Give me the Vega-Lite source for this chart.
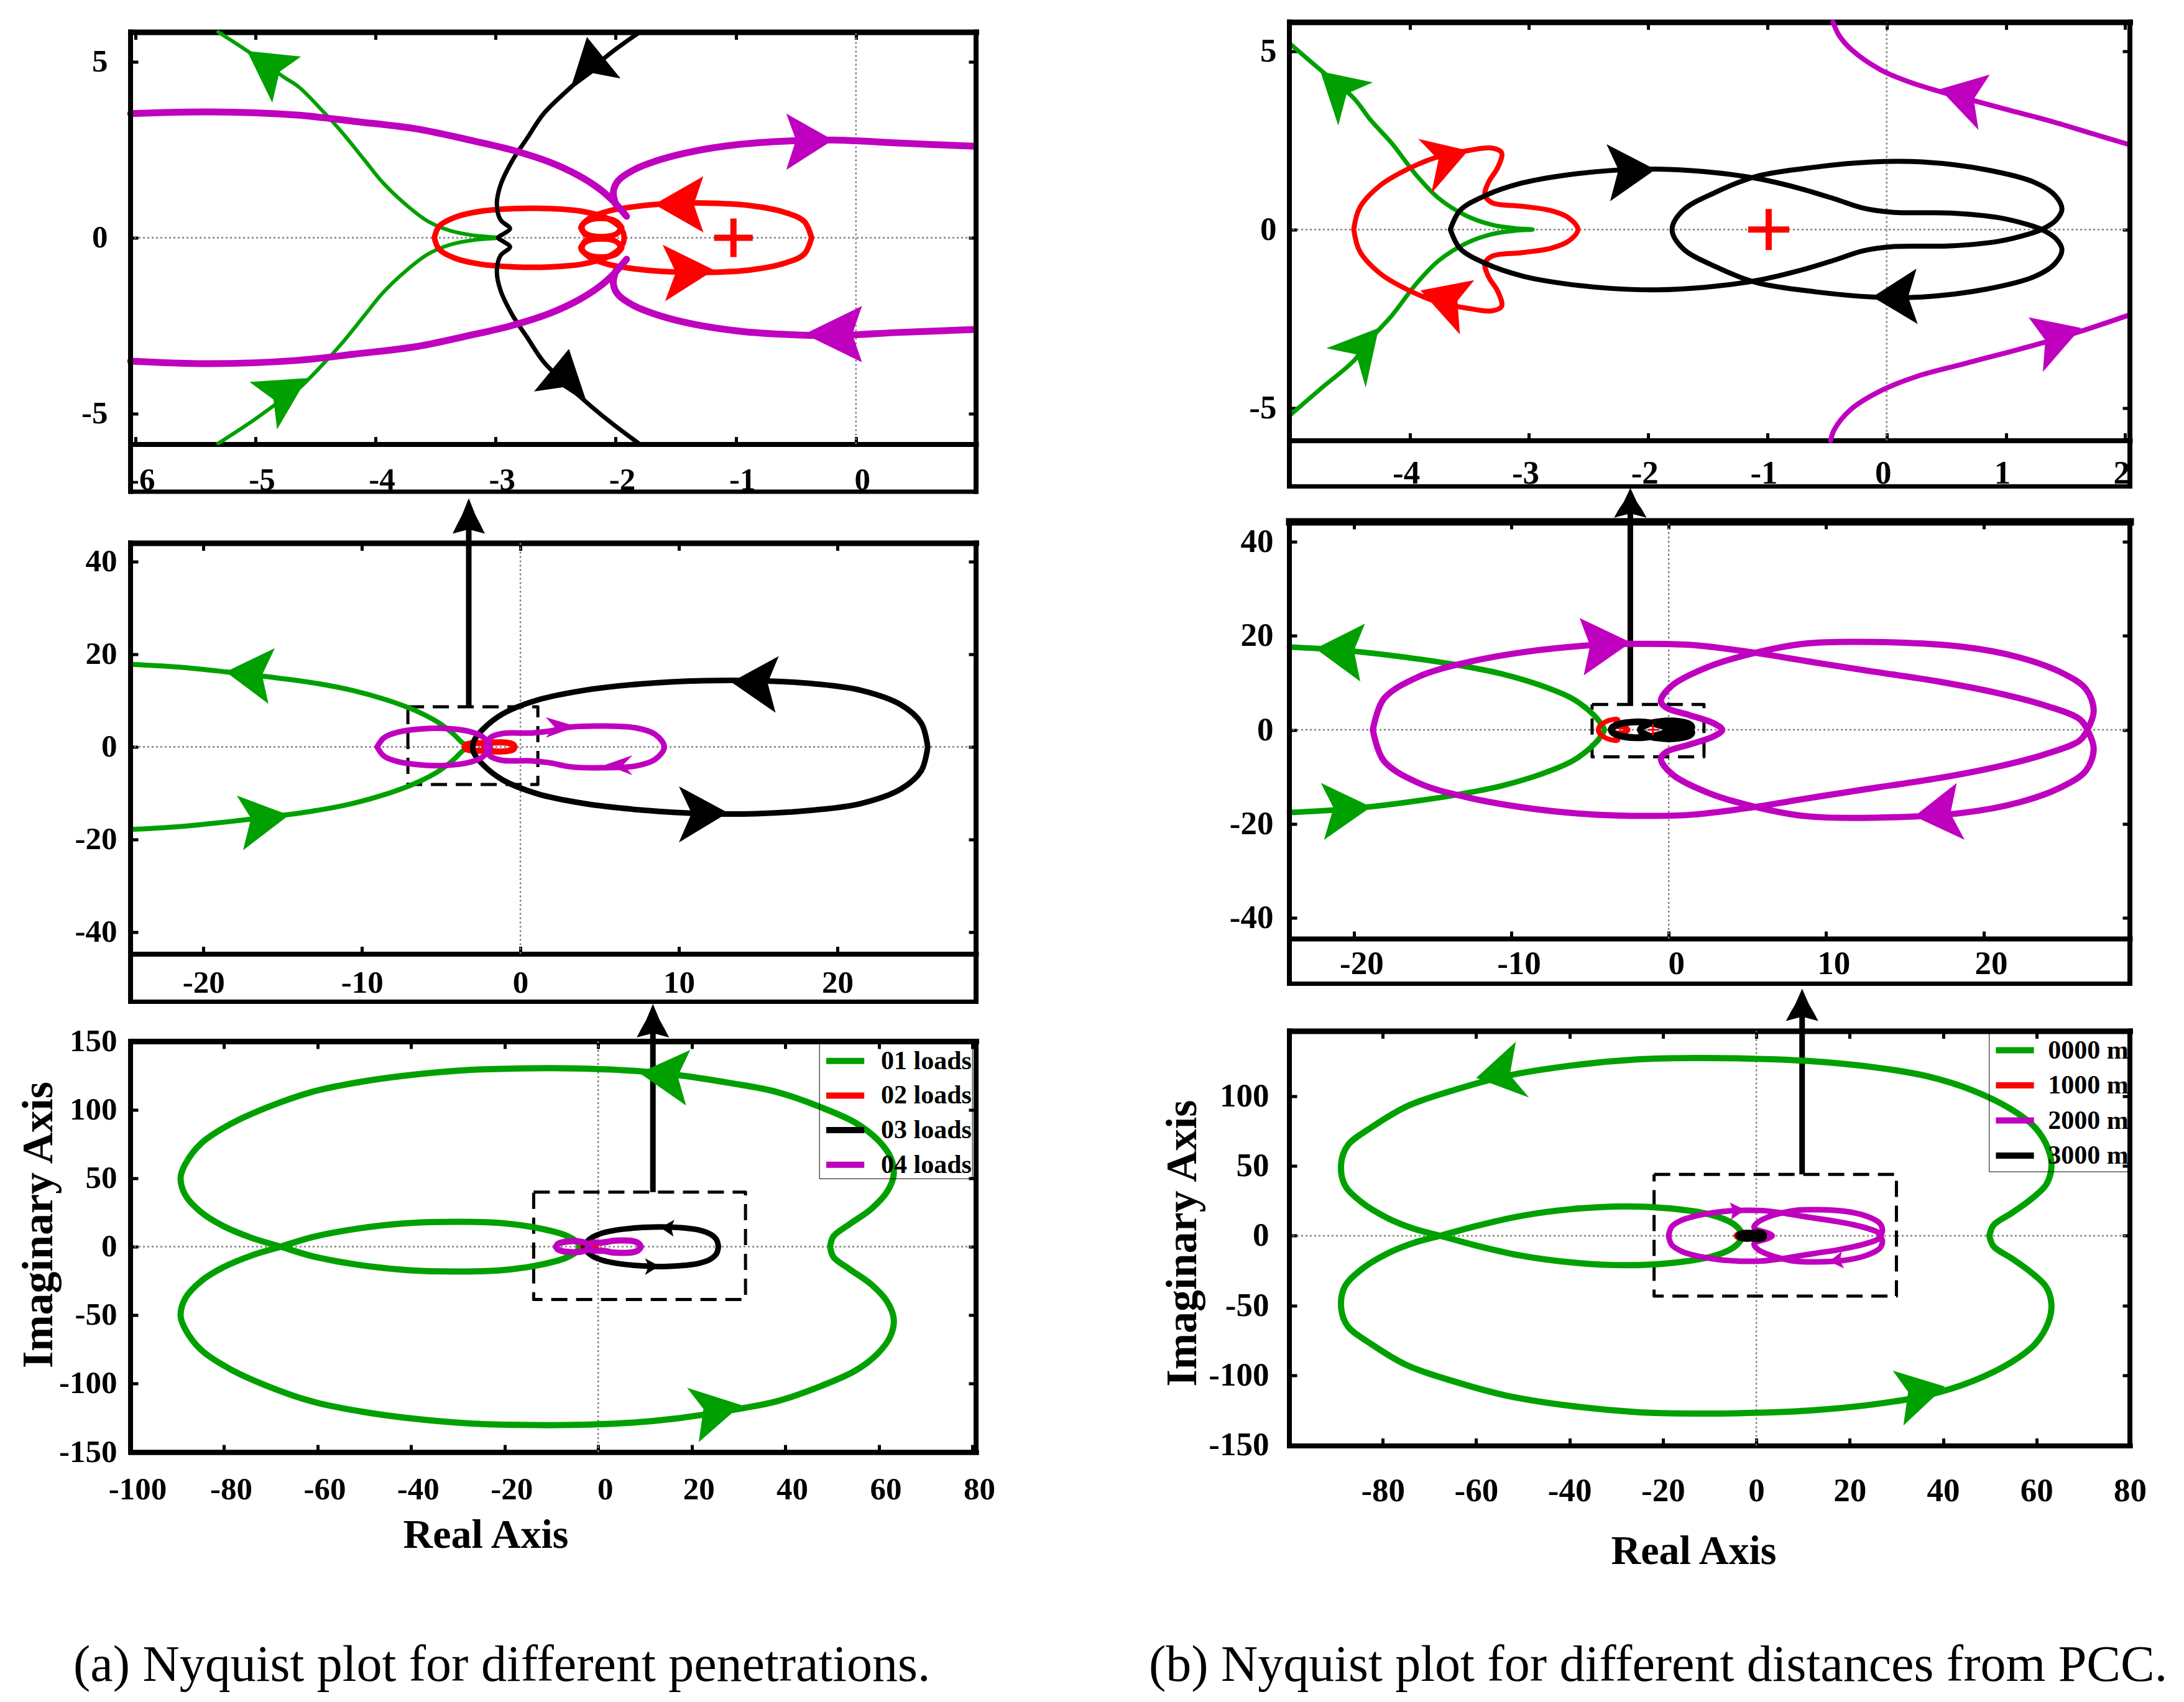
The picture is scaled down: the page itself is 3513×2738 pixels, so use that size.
{
"$schema":"https://vega.github.io/schema/vega-lite/v6.json",
"background":"white",
"padding":{"left":27,"top":29.5,"right":5,"bottom":5},
"config":{
 "view":{"stroke":null},
 "axis":{"grid":false,"labelFont":"Liberation Serif","labelFontWeight":"bold","labelColor":"black","titleFont":"Liberation Serif","titleFontWeight":"bold","titleColor":"black","domainColor":"black","tickColor":"black","tickWidth":5,"tickSize":12,"labelFlush":false,"labelOverlap":false,"domainCap":"square","labelExpr":"datum.value < 0 ? '-' + abs(datum.value) : '' + datum.value"},
 "line":{"strokeJoin":"round","strokeCap":"round","interpolate":"catmull-rom"}
},
"datasets":{
"one":[{}],
"a1g":[{"s":"01 loads","x":-5.31,"y":-5.85},{"s":"01 loads","x":-5.05,"y":-5.27},{"s":"01 loads","x":-4.76,"y":-4.56},{"s":"01 loads","x":-4.64,"y":-4.29},{"s":"01 loads","x":-4.42,"y":-3.53},{"s":"01 loads","x":-4.28,"y":-3.0},{"s":"01 loads","x":-4.09,"y":-2.2},{"s":"01 loads","x":-3.94,"y":-1.57},{"s":"01 loads","x":-3.75,"y":-0.95},{"s":"01 loads","x":-3.56,"y":-0.46},{"s":"01 loads","x":-3.37,"y":-0.19},{"s":"01 loads","x":-3.17,"y":-0.06},{"s":"01 loads","x":-2.98,"y":0},{"s":"01 loads","x":-3.17,"y":0.06},{"s":"01 loads","x":-3.37,"y":0.19},{"s":"01 loads","x":-3.56,"y":0.46},{"s":"01 loads","x":-3.75,"y":0.95},{"s":"01 loads","x":-3.94,"y":1.57},{"s":"01 loads","x":-4.09,"y":2.2},{"s":"01 loads","x":-4.28,"y":3.0},{"s":"01 loads","x":-4.42,"y":3.53},{"s":"01 loads","x":-4.64,"y":4.29},{"s":"01 loads","x":-4.76,"y":4.56},{"s":"01 loads","x":-5.05,"y":5.27},{"s":"01 loads","x":-5.31,"y":5.85}],
"a1k":[{"s":"03 loads","x":-1.8,"y":5.85},{"s":"03 loads","x":-2.02,"y":5.31},{"s":"03 loads","x":-2.21,"y":4.78},{"s":"03 loads","x":-2.4,"y":4.2},{"s":"03 loads","x":-2.6,"y":3.53},{"s":"03 loads","x":-2.74,"y":2.82},{"s":"03 loads","x":-2.86,"y":2.2},{"s":"03 loads","x":-2.96,"y":1.49},{"s":"03 loads","x":-2.99,"y":0.95},{"s":"03 loads","x":-2.96,"y":0.51},{"s":"03 loads","x":-2.88,"y":0.26},{"s":"03 loads","x":-2.93,"y":0.12},{"s":"03 loads","x":-2.98,"y":0},{"s":"03 loads","x":-2.93,"y":-0.12},{"s":"03 loads","x":-2.88,"y":-0.26},{"s":"03 loads","x":-2.96,"y":-0.51},{"s":"03 loads","x":-2.99,"y":-0.95},{"s":"03 loads","x":-2.96,"y":-1.49},{"s":"03 loads","x":-2.86,"y":-2.2},{"s":"03 loads","x":-2.74,"y":-2.82},{"s":"03 loads","x":-2.6,"y":-3.53},{"s":"03 loads","x":-2.4,"y":-4.2},{"s":"03 loads","x":-2.21,"y":-4.78},{"s":"03 loads","x":-2.02,"y":-5.31},{"s":"03 loads","x":-1.8,"y":-5.87}],
"a1r":[{"s":"02 loads","g":1,"x":-0.37,"y":0},{"s":"02 loads","g":1,"x":-0.43,"y":0.46},{"s":"02 loads","g":1,"x":-0.6,"y":0.73},{"s":"02 loads","g":1,"x":-0.87,"y":0.91},{"s":"02 loads","g":1,"x":-1.18,"y":0.98},{"s":"02 loads","g":1,"x":-1.54,"y":0.97},{"s":"02 loads","g":1,"x":-1.83,"y":0.89},{"s":"02 loads","g":1,"x":-2.07,"y":0.75},{"s":"02 loads","g":1,"x":-2.22,"y":0.55},{"s":"02 loads","g":1,"x":-2.28,"y":0.33},{"s":"02 loads","g":1,"x":-2.26,"y":0.11},{"s":"02 loads","g":1,"x":-2.21,"y":0},{"s":"02 loads","g":1,"x":-2.26,"y":-0.11},{"s":"02 loads","g":1,"x":-2.28,"y":-0.33},{"s":"02 loads","g":1,"x":-2.22,"y":-0.55},{"s":"02 loads","g":1,"x":-2.07,"y":-0.75},{"s":"02 loads","g":1,"x":-1.83,"y":-0.89},{"s":"02 loads","g":1,"x":-1.54,"y":-0.97},{"s":"02 loads","g":1,"x":-1.18,"y":-0.98},{"s":"02 loads","g":1,"x":-0.87,"y":-0.91},{"s":"02 loads","g":1,"x":-0.6,"y":-0.73},{"s":"02 loads","g":1,"x":-0.43,"y":-0.46},{"s":"02 loads","g":1,"x":-0.37,"y":0},
{"s":"02 loads","g":2,"x":-3.51,"y":0},{"s":"02 loads","g":2,"x":-3.47,"y":0.33},{"s":"02 loads","g":2,"x":-3.34,"y":0.58},{"s":"02 loads","g":2,"x":-3.13,"y":0.75},{"s":"02 loads","g":2,"x":-2.84,"y":0.83},{"s":"02 loads","g":2,"x":-2.55,"y":0.83},{"s":"02 loads","g":2,"x":-2.28,"y":0.75},{"s":"02 loads","g":2,"x":-2.07,"y":0.55},{"s":"02 loads","g":2,"x":-1.96,"y":0.28},{"s":"02 loads","g":2,"x":-1.93,"y":0},{"s":"02 loads","g":2,"x":-1.96,"y":-0.28},{"s":"02 loads","g":2,"x":-2.07,"y":-0.55},{"s":"02 loads","g":2,"x":-2.28,"y":-0.75},{"s":"02 loads","g":2,"x":-2.55,"y":-0.83},{"s":"02 loads","g":2,"x":-2.84,"y":-0.83},{"s":"02 loads","g":2,"x":-3.13,"y":-0.75},{"s":"02 loads","g":2,"x":-3.34,"y":-0.58},{"s":"02 loads","g":2,"x":-3.47,"y":-0.33},{"s":"02 loads","g":2,"x":-3.51,"y":0},
{"s":"02 loads","g":3,"x":-1.95,"y":0.29},{"s":"02 loads","g":3,"x":-2.0,"y":0.47},{"s":"02 loads","g":3,"x":-2.12,"y":0.55},{"s":"02 loads","g":3,"x":-2.24,"y":0.47},{"s":"02 loads","g":3,"x":-2.29,"y":0.29},{"s":"02 loads","g":3,"x":-2.24,"y":0.1},{"s":"02 loads","g":3,"x":-2.12,"y":0.03},{"s":"02 loads","g":3,"x":-2.0,"y":0.1},{"s":"02 loads","g":3,"x":-1.95,"y":0.29},
{"s":"02 loads","g":4,"x":-1.95,"y":-0.29},{"s":"02 loads","g":4,"x":-2.0,"y":-0.47},{"s":"02 loads","g":4,"x":-2.12,"y":-0.55},{"s":"02 loads","g":4,"x":-2.24,"y":-0.47},{"s":"02 loads","g":4,"x":-2.29,"y":-0.29},{"s":"02 loads","g":4,"x":-2.24,"y":-0.1},{"s":"02 loads","g":4,"x":-2.12,"y":-0.03},{"s":"02 loads","g":4,"x":-2.0,"y":-0.1},{"s":"02 loads","g":4,"x":-1.95,"y":-0.29}],
"a1m":[{"s":"04 loads","g":1,"x":-6.04,"y":3.53},{"s":"04 loads","g":1,"x":-5.38,"y":3.58},{"s":"04 loads","g":1,"x":-4.66,"y":3.49},{"s":"04 loads","g":1,"x":-4.18,"y":3.31},{"s":"04 loads","g":1,"x":-3.65,"y":3.09},{"s":"04 loads","g":1,"x":-3.22,"y":2.78},{"s":"04 loads","g":1,"x":-2.88,"y":2.51},{"s":"04 loads","g":1,"x":-2.55,"y":2.15},{"s":"04 loads","g":1,"x":-2.31,"y":1.77},{"s":"04 loads","g":1,"x":-2.14,"y":1.4},{"s":"04 loads","g":1,"x":-2.02,"y":1.04},{"s":"04 loads","g":1,"x":-1.95,"y":0.77},{"s":"04 loads","g":1,"x":-1.91,"y":0.61},
{"s":"04 loads","g":2,"x":-2.0,"y":0.95},{"s":"04 loads","g":2,"x":-2.02,"y":1.31},{"s":"04 loads","g":2,"x":-1.98,"y":1.62},{"s":"04 loads","g":2,"x":-1.85,"y":1.93},{"s":"04 loads","g":2,"x":-1.63,"y":2.22},{"s":"04 loads","g":2,"x":-1.35,"y":2.46},{"s":"04 loads","g":2,"x":-0.96,"y":2.66},{"s":"04 loads","g":2,"x":-0.58,"y":2.75},{"s":"04 loads","g":2,"x":-0.19,"y":2.78},{"s":"04 loads","g":2,"x":0.38,"y":2.69},{"s":"04 loads","g":2,"x":0.99,"y":2.6},
{"s":"04 loads","g":3,"x":-6.04,"y":-3.51},{"s":"04 loads","g":3,"x":-5.38,"y":-3.58},{"s":"04 loads","g":3,"x":-4.66,"y":-3.49},{"s":"04 loads","g":3,"x":-4.18,"y":-3.31},{"s":"04 loads","g":3,"x":-3.65,"y":-3.09},{"s":"04 loads","g":3,"x":-3.22,"y":-2.78},{"s":"04 loads","g":3,"x":-2.88,"y":-2.51},{"s":"04 loads","g":3,"x":-2.55,"y":-2.15},{"s":"04 loads","g":3,"x":-2.31,"y":-1.77},{"s":"04 loads","g":3,"x":-2.14,"y":-1.4},{"s":"04 loads","g":3,"x":-2.02,"y":-1.04},{"s":"04 loads","g":3,"x":-1.95,"y":-0.77},{"s":"04 loads","g":3,"x":-1.91,"y":-0.61},
{"s":"04 loads","g":4,"x":-2.0,"y":-0.95},{"s":"04 loads","g":4,"x":-2.02,"y":-1.31},{"s":"04 loads","g":4,"x":-1.98,"y":-1.62},{"s":"04 loads","g":4,"x":-1.85,"y":-1.93},{"s":"04 loads","g":4,"x":-1.63,"y":-2.22},{"s":"04 loads","g":4,"x":-1.35,"y":-2.46},{"s":"04 loads","g":4,"x":-0.96,"y":-2.66},{"s":"04 loads","g":4,"x":-0.58,"y":-2.75},{"s":"04 loads","g":4,"x":-0.19,"y":-2.78},{"s":"04 loads","g":4,"x":0.38,"y":-2.69},{"s":"04 loads","g":4,"x":0.99,"y":-2.61}],
"a1a":[{"s":"01 loads","g":"ga","x":-5.07,"y":5.31},{"s":"01 loads","g":"ga","x":-4.62,"y":5.15},{"s":"01 loads","g":"ga","x":-4.8,"y":4.72},{"s":"01 loads","g":"ga","x":-4.86,"y":3.84},
{"s":"01 loads","g":"gb","x":-4.57,"y":-3.99},{"s":"01 loads","g":"gb","x":-5.05,"y":-4.1},{"s":"01 loads","g":"gb","x":-4.85,"y":-4.6},{"s":"01 loads","g":"gb","x":-4.82,"y":-5.45},
{"s":"03 loads","g":"ka","x":-2.24,"y":5.71},{"s":"03 loads","g":"ka","x":-1.96,"y":4.53},{"s":"03 loads","g":"ka","x":-2.19,"y":4.68},{"s":"03 loads","g":"ka","x":-2.38,"y":4.2},
{"s":"03 loads","g":"kb","x":-2.39,"y":-3.16},{"s":"03 loads","g":"kb","x":-2.24,"y":-4.7},{"s":"03 loads","g":"kb","x":-2.44,"y":-4.25},{"s":"03 loads","g":"kb","x":-2.68,"y":-4.37},
{"s":"02 loads","g":"ra","x":-1.68,"y":0.95},{"s":"02 loads","g":"ra","x":-1.27,"y":1.75},{"s":"02 loads","g":"ra","x":-1.35,"y":0.95},{"s":"02 loads","g":"ra","x":-1.27,"y":0.15},
{"s":"02 loads","g":"rb","x":-1.18,"y":-0.92},{"s":"02 loads","g":"rb","x":-1.61,"y":-0.2},{"s":"02 loads","g":"rb","x":-1.5,"y":-0.98},{"s":"02 loads","g":"rb","x":-1.59,"y":-1.81},
{"s":"04 loads","g":"ma","x":-0.19,"y":2.78},{"s":"04 loads","g":"ma","x":-0.58,"y":3.53},{"s":"04 loads","g":"ma","x":-0.5,"y":2.78},{"s":"04 loads","g":"ma","x":-0.58,"y":1.93},
{"s":"04 loads","g":"mb","x":-0.43,"y":-2.74},{"s":"04 loads","g":"mb","x":0.05,"y":-1.94},{"s":"04 loads","g":"mb","x":-0.03,"y":-2.74},{"s":"04 loads","g":"mb","x":0.05,"y":-3.54}],
"a2g":[{"s":"01 loads","x":-24.6,"y":-17.8},{"s":"01 loads","x":-21.5,"y":-17.2},{"s":"01 loads","x":-18.6,"y":-16.2},{"s":"01 loads","x":-16.1,"y":-15.2},{"s":"01 loads","x":-13.2,"y":-13.9},{"s":"01 loads","x":-10.6,"y":-12.2},{"s":"01 loads","x":-8.4,"y":-10.1},{"s":"01 loads","x":-6.6,"y":-7.8},{"s":"01 loads","x":-5.1,"y":-5.1},{"s":"01 loads","x":-4.2,"y":-2.7},{"s":"01 loads","x":-3.7,"y":-1.0},{"s":"01 loads","x":-3.3,"y":0},{"s":"01 loads","x":-3.7,"y":1.0},{"s":"01 loads","x":-4.2,"y":2.7},{"s":"01 loads","x":-5.1,"y":5.1},{"s":"01 loads","x":-6.6,"y":7.8},{"s":"01 loads","x":-8.4,"y":10.1},{"s":"01 loads","x":-10.6,"y":12.2},{"s":"01 loads","x":-13.2,"y":13.9},{"s":"01 loads","x":-16.1,"y":15.2},{"s":"01 loads","x":-18.6,"y":16.2},{"s":"01 loads","x":-21.5,"y":17.2},{"s":"01 loads","x":-24.6,"y":17.8}],
"a2k":[{"s":"03 loads","x":25.7,"y":0},{"s":"03 loads","x":25.3,"y":5.1},{"s":"03 loads","x":24.0,"y":9.1},{"s":"03 loads","x":21.5,"y":12.2},{"s":"03 loads","x":18.6,"y":13.6},{"s":"03 loads","x":14.9,"y":14.3},{"s":"03 loads","x":11.6,"y":14.3},{"s":"03 loads","x":7.6,"y":13.6},{"s":"03 loads","x":4.0,"y":12.2},{"s":"03 loads","x":1.06,"y":10.1},{"s":"03 loads","x":-1.13,"y":7.1},{"s":"03 loads","x":-2.4,"y":3.7},{"s":"03 loads","x":-2.95,"y":1.2},{"s":"03 loads","x":-3.0,"y":0},{"s":"03 loads","x":-2.95,"y":-1.2},{"s":"03 loads","x":-2.4,"y":-3.7},{"s":"03 loads","x":-1.13,"y":-7.1},{"s":"03 loads","x":1.06,"y":-10.1},{"s":"03 loads","x":4.0,"y":-12.2},{"s":"03 loads","x":7.6,"y":-13.6},{"s":"03 loads","x":11.6,"y":-14.4},{"s":"03 loads","x":14.9,"y":-14.4},{"s":"03 loads","x":18.6,"y":-13.6},{"s":"03 loads","x":21.5,"y":-12.2},{"s":"03 loads","x":24.0,"y":-9.1},{"s":"03 loads","x":25.3,"y":-5.1},{"s":"03 loads","x":25.7,"y":0}],
"a2m":[{"s":"04 loads","g":1,"x":-9.04,"y":0},{"s":"04 loads","g":1,"x":-8.6,"y":2.0},{"s":"04 loads","g":1,"x":-7.7,"y":3.2},{"s":"04 loads","g":1,"x":-6.2,"y":3.9},{"s":"04 loads","g":1,"x":-4.8,"y":4.0},{"s":"04 loads","g":1,"x":-3.3,"y":3.4},{"s":"04 loads","g":1,"x":-2.4,"y":2.2},{"s":"04 loads","g":1,"x":-1.9,"y":0},{"s":"04 loads","g":1,"x":-2.4,"y":-2.2},{"s":"04 loads","g":1,"x":-3.3,"y":-3.4},{"s":"04 loads","g":1,"x":-4.8,"y":-4.0},{"s":"04 loads","g":1,"x":-6.2,"y":-3.9},{"s":"04 loads","g":1,"x":-7.7,"y":-3.2},{"s":"04 loads","g":1,"x":-8.6,"y":-2.0},{"s":"04 loads","g":1,"x":-9.04,"y":0},
{"s":"04 loads","g":2,"x":-2.2,"y":0},{"s":"04 loads","g":2,"x":-1.9,"y":2.0},{"s":"04 loads","g":2,"x":-1.13,"y":2.9},{"s":"04 loads","g":2,"x":0.7,"y":3.0},{"s":"04 loads","g":2,"x":1.8,"y":3.4},{"s":"04 loads","g":2,"x":3.2,"y":4.3},{"s":"04 loads","g":2,"x":5.1,"y":4.5},{"s":"04 loads","g":2,"x":7.3,"y":4.1},{"s":"04 loads","g":2,"x":8.5,"y":2.7},{"s":"04 loads","g":2,"x":9.08,"y":0},{"s":"04 loads","g":2,"x":8.5,"y":-2.7},{"s":"04 loads","g":2,"x":7.3,"y":-4.1},{"s":"04 loads","g":2,"x":5.1,"y":-4.5},{"s":"04 loads","g":2,"x":3.2,"y":-4.3},{"s":"04 loads","g":2,"x":1.8,"y":-3.4},{"s":"04 loads","g":2,"x":0.7,"y":-3.0},{"s":"04 loads","g":2,"x":-1.13,"y":-2.9},{"s":"04 loads","g":2,"x":-1.9,"y":-2.0},{"s":"04 loads","g":2,"x":-2.2,"y":0}],
"a2a":[{"s":"01 loads","g":"ga","x":-18.6,"y":16.2},{"s":"01 loads","g":"ga","x":-15.5,"y":21.3},{"s":"01 loads","g":"ga","x":-16.3,"y":15.5},{"s":"01 loads","g":"ga","x":-15.9,"y":9.3},
{"s":"01 loads","g":"gb","x":-14.6,"y":-14.7},{"s":"01 loads","g":"gb","x":-17.9,"y":-10.5},{"s":"01 loads","g":"gb","x":-17.0,"y":-15.4},{"s":"01 loads","g":"gb","x":-17.5,"y":-22.3},
{"s":"03 loads","g":"ka","x":13.3,"y":14.0},{"s":"03 loads","g":"ka","x":16.3,"y":19.6},{"s":"03 loads","g":"ka","x":15.6,"y":13.8},{"s":"03 loads","g":"ka","x":16.1,"y":7.4},
{"s":"03 loads","g":"kb","x":13.1,"y":-14.2},{"s":"03 loads","g":"kb","x":10.0,"y":-8.5},{"s":"03 loads","g":"kb","x":10.8,"y":-14.3},{"s":"03 loads","g":"kb","x":10.0,"y":-20.6},
{"s":"04 loads","g":"ma","x":3.54,"y":4.4},{"s":"04 loads","g":"ma","x":1.6,"y":6.4},{"s":"04 loads","g":"ma","x":2.15,"y":4.3},{"s":"04 loads","g":"ma","x":1.6,"y":2.0},
{"s":"04 loads","g":"mb","x":5.36,"y":-3.85},{"s":"04 loads","g":"mb","x":7.07,"y":-1.8},{"s":"04 loads","g":"mb","x":6.5,"y":-3.85},{"s":"04 loads","g":"mb","x":7.07,"y":-6.1}],
"a2box":[{"x":-7.1,"y":8.65},{"x":1.1,"y":8.65},{"x":1.1,"y":-8.1},{"x":-7.1,"y":-8.1},{"x":-7.1,"y":8.65}],
"a2hd":[{"x":-3.26,"y":53.66},{"x":-2.84,"y":50.06},{"x":-2.515,"y":47.92},{"x":-2.24,"y":46.01},{"x":-3.26,"y":46.95},{"x":-4.28,"y":46.01},{"x":-4.005,"y":47.92},{"x":-3.68,"y":50.06}],
"a3g":[{"s":"01 loads","x":49.6,"y":0},{"s":"01 loads","x":50.3,"y":7.5},{"s":"01 loads","x":53.7,"y":16.3},{"s":"01 loads","x":58.4,"y":27.6},{"s":"01 loads","x":61.8,"y":40.2},{"s":"01 loads","x":63.2,"y":52.8},{"s":"01 loads","x":62.5,"y":65.3},{"s":"01 loads","x":59.8,"y":77.9},{"s":"01 loads","x":55.0,"y":90.5},{"s":"01 loads","x":47.6,"y":101.8},{"s":"01 loads","x":38.0,"y":113.1},{"s":"01 loads","x":28.5,"y":119.3},{"s":"01 loads","x":16.3,"y":125.6},{"s":"01 loads","x":6.8,"y":128.6},{"s":"01 loads","x":-5.4,"y":130.2},{"s":"01 loads","x":-16.3,"y":130.2},{"s":"01 loads","x":-27.2,"y":129.1},{"s":"01 loads","x":-39.4,"y":125.6},{"s":"01 loads","x":-50.3,"y":120.6},{"s":"01 loads","x":-61.1,"y":113.1},{"s":"01 loads","x":-70.7,"y":101.8},{"s":"01 loads","x":-78.8,"y":89.2},{"s":"01 loads","x":-84.9,"y":75.4},{"s":"01 loads","x":-88.3,"y":60.3},{"s":"01 loads","x":-89.3,"y":50.3},{"s":"01 loads","x":-88.3,"y":37.7},{"s":"01 loads","x":-84.9,"y":25.1},{"s":"01 loads","x":-80.2,"y":15.1},{"s":"01 loads","x":-74.0,"y":6.3},{"s":"01 loads","x":-67.9,"y":0},
{"s":"01 loads","x":-61.1,"y":-7.0},{"s":"01 loads","x":-51.6,"y":-13.1},{"s":"01 loads","x":-40.8,"y":-17.1},{"s":"01 loads","x":-29.9,"y":-18.1},{"s":"01 loads","x":-20.4,"y":-17.1},{"s":"01 loads","x":-12.2,"y":-13.1},{"s":"01 loads","x":-6.8,"y":-8.0},{"s":"01 loads","x":-4.3,"y":-2.5},{"s":"01 loads","x":-4.1,"y":0},
{"s":"01 loads","x":-4.3,"y":2.5},{"s":"01 loads","x":-6.8,"y":8.0},{"s":"01 loads","x":-12.2,"y":13.1},{"s":"01 loads","x":-20.4,"y":17.1},{"s":"01 loads","x":-29.9,"y":18.1},{"s":"01 loads","x":-40.8,"y":17.1},{"s":"01 loads","x":-51.6,"y":13.1},{"s":"01 loads","x":-61.1,"y":7.0},{"s":"01 loads","x":-67.9,"y":0},
{"s":"01 loads","x":-74.0,"y":-6.3},{"s":"01 loads","x":-80.2,"y":-15.1},{"s":"01 loads","x":-84.9,"y":-25.1},{"s":"01 loads","x":-88.3,"y":-37.7},{"s":"01 loads","x":-89.3,"y":-50.3},{"s":"01 loads","x":-88.3,"y":-60.3},{"s":"01 loads","x":-84.9,"y":-75.4},{"s":"01 loads","x":-78.8,"y":-89.2},{"s":"01 loads","x":-70.7,"y":-101.8},{"s":"01 loads","x":-61.1,"y":-113.1},{"s":"01 loads","x":-50.3,"y":-120.6},{"s":"01 loads","x":-39.4,"y":-125.6},{"s":"01 loads","x":-27.2,"y":-129.1},{"s":"01 loads","x":-16.3,"y":-130.2},{"s":"01 loads","x":-5.4,"y":-130.2},{"s":"01 loads","x":6.8,"y":-128.6},{"s":"01 loads","x":16.3,"y":-125.6},{"s":"01 loads","x":28.5,"y":-119.3},{"s":"01 loads","x":38.0,"y":-113.1},{"s":"01 loads","x":47.6,"y":-101.8},{"s":"01 loads","x":55.0,"y":-90.5},{"s":"01 loads","x":59.8,"y":-77.9},{"s":"01 loads","x":62.5,"y":-65.3},{"s":"01 loads","x":63.2,"y":-52.8},{"s":"01 loads","x":61.8,"y":-40.2},{"s":"01 loads","x":58.4,"y":-27.6},{"s":"01 loads","x":53.7,"y":-16.3},{"s":"01 loads","x":50.3,"y":-7.5},{"s":"01 loads","x":49.6,"y":0}],
"a3a":[{"s":"01 loads","g":"ga","x":8.8,"y":126.9},{"s":"01 loads","g":"ga","x":19.7,"y":143.7},{"s":"01 loads","g":"ga","x":17.0,"y":124.5},{"s":"01 loads","g":"ga","x":18.8,"y":103.0},
{"s":"01 loads","g":"gb","x":30.6,"y":-115.6},{"s":"01 loads","g":"gb","x":19.0,"y":-103.0},{"s":"01 loads","g":"gb","x":22.5,"y":-118.5},{"s":"01 loads","g":"gb","x":21.5,"y":-142.7}],
"a3box":[{"x":-13.8,"y":39.8},{"x":31.5,"y":39.8},{"x":31.5,"y":-38.6},{"x":-13.8,"y":-38.6},{"x":-13.8,"y":39.8}],
"a3hd":[{"x":11.7,"y":177.2},{"x":13.12,"y":165.7},{"x":14.23,"y":158.8},{"x":15.16,"y":152.7},{"x":11.7,"y":155.9},{"x":8.24,"y":152.7},{"x":9.17,"y":158.8},{"x":10.28,"y":165.7}],
"b1g":[{"s":"0000 m","x":-5.0,"y":-5.19},{"s":"0000 m","x":-4.75,"y":-4.47},{"s":"0000 m","x":-4.47,"y":-3.68},{"s":"0000 m","x":-4.33,"y":-3.07},{"s":"0000 m","x":-4.15,"y":-2.41},{"s":"0000 m","x":-3.95,"y":-1.54},{"s":"0000 m","x":-3.76,"y":-0.88},{"s":"0000 m","x":-3.53,"y":-0.39},{"s":"0000 m","x":-3.31,"y":-0.13},{"s":"0000 m","x":-3.11,"y":-0.03},{"s":"0000 m","x":-2.97,"y":0},{"s":"0000 m","x":-3.11,"y":0.03},{"s":"0000 m","x":-3.31,"y":0.13},{"s":"0000 m","x":-3.53,"y":0.39},{"s":"0000 m","x":-3.76,"y":0.88},{"s":"0000 m","x":-3.95,"y":1.54},{"s":"0000 m","x":-4.15,"y":2.41},{"s":"0000 m","x":-4.33,"y":3.07},{"s":"0000 m","x":-4.47,"y":3.68},{"s":"0000 m","x":-4.75,"y":4.47},{"s":"0000 m","x":-5.0,"y":5.19}],
"b1r":[{"s":"1000 m","x":-4.47,"y":0},{"s":"1000 m","x":-4.42,"y":0.61},{"s":"1000 m","x":-4.25,"y":1.23},{"s":"1000 m","x":-4.03,"y":1.67},{"s":"1000 m","x":-3.76,"y":2.04},{"s":"1000 m","x":-3.51,"y":2.21},{"s":"1000 m","x":-3.31,"y":2.28},{"s":"1000 m","x":-3.23,"y":2.15},{"s":"1000 m","x":-3.26,"y":1.75},{"s":"1000 m","x":-3.34,"y":1.32},{"s":"1000 m","x":-3.37,"y":0.96},{"s":"1000 m","x":-3.31,"y":0.75},{"s":"1000 m","x":-3.06,"y":0.65},{"s":"1000 m","x":-2.82,"y":0.53},{"s":"1000 m","x":-2.67,"y":0.33},{"s":"1000 m","x":-2.59,"y":0},{"s":"1000 m","x":-2.67,"y":-0.33},{"s":"1000 m","x":-2.82,"y":-0.53},{"s":"1000 m","x":-3.06,"y":-0.65},{"s":"1000 m","x":-3.31,"y":-0.75},{"s":"1000 m","x":-3.37,"y":-0.96},{"s":"1000 m","x":-3.34,"y":-1.32},{"s":"1000 m","x":-3.26,"y":-1.75},{"s":"1000 m","x":-3.23,"y":-2.15},{"s":"1000 m","x":-3.31,"y":-2.28},{"s":"1000 m","x":-3.51,"y":-2.21},{"s":"1000 m","x":-3.76,"y":-2.04},{"s":"1000 m","x":-4.03,"y":-1.67},{"s":"1000 m","x":-4.25,"y":-1.23},{"s":"1000 m","x":-4.42,"y":-0.61},{"s":"1000 m","x":-4.47,"y":0}],
"b1k":[{"s":"3000 m","x":-3.66,"y":0},{"s":"3000 m","x":-3.58,"y":0.53},{"s":"3000 m","x":-3.36,"y":0.96},{"s":"3000 m","x":-3.06,"y":1.3},{"s":"3000 m","x":-2.72,"y":1.51},{"s":"3000 m","x":-2.32,"y":1.65},{"s":"3000 m","x":-1.93,"y":1.69},{"s":"3000 m","x":-1.53,"y":1.62},{"s":"3000 m","x":-1.09,"y":1.43},{"s":"3000 m","x":-0.74,"y":1.16},{"s":"3000 m","x":-0.44,"y":0.86},{"s":"3000 m","x":-0.2,"y":0.6},{"s":"3000 m","x":0.05,"y":0.48},{"s":"3000 m","x":0.54,"y":0.46},{"s":"3000 m","x":0.94,"y":0.33},{"s":"3000 m","x":1.19,"y":0.13},{"s":"3000 m","x":1.3,"y":0},{"s":"3000 m","x":1.42,"y":-0.26},{"s":"3000 m","x":1.47,"y":-0.57},{"s":"3000 m","x":1.41,"y":-0.96},{"s":"3000 m","x":1.24,"y":-1.32},{"s":"3000 m","x":0.84,"y":-1.67},{"s":"3000 m","x":0.3,"y":-1.89},{"s":"3000 m","x":-0.12,"y":-1.89},{"s":"3000 m","x":-0.59,"y":-1.75},{"s":"3000 m","x":-1.09,"y":-1.49},{"s":"3000 m","x":-1.43,"y":-1.05},{"s":"3000 m","x":-1.71,"y":-0.53},{"s":"3000 m","x":-1.8,"y":0},{"s":"3000 m","x":-1.71,"y":0.53},{"s":"3000 m","x":-1.43,"y":1.05},{"s":"3000 m","x":-1.09,"y":1.49},{"s":"3000 m","x":-0.59,"y":1.75},{"s":"3000 m","x":-0.12,"y":1.89},{"s":"3000 m","x":0.3,"y":1.89},{"s":"3000 m","x":0.84,"y":1.67},{"s":"3000 m","x":1.24,"y":1.32},{"s":"3000 m","x":1.41,"y":0.96},{"s":"3000 m","x":1.47,"y":0.57},{"s":"3000 m","x":1.42,"y":0.26},{"s":"3000 m","x":1.3,"y":0},{"s":"3000 m","x":1.19,"y":-0.13},{"s":"3000 m","x":0.94,"y":-0.33},{"s":"3000 m","x":0.54,"y":-0.46},{"s":"3000 m","x":0.05,"y":-0.48},{"s":"3000 m","x":-0.2,"y":-0.6},{"s":"3000 m","x":-0.44,"y":-0.86},{"s":"3000 m","x":-0.74,"y":-1.16},{"s":"3000 m","x":-1.09,"y":-1.43},{"s":"3000 m","x":-1.53,"y":-1.62},{"s":"3000 m","x":-1.93,"y":-1.69},{"s":"3000 m","x":-2.32,"y":-1.65},{"s":"3000 m","x":-2.72,"y":-1.51},{"s":"3000 m","x":-3.06,"y":-1.3},{"s":"3000 m","x":-3.36,"y":-0.96},{"s":"3000 m","x":-3.58,"y":-0.53},{"s":"3000 m","x":-3.66,"y":0}],
"b1m":[{"s":"2000 m","g":1,"x":-0.45,"y":5.81},{"s":"2000 m","g":1,"x":-0.4,"y":5.44},{"s":"2000 m","g":1,"x":-0.29,"y":5.02},{"s":"2000 m","g":1,"x":-0.05,"y":4.47},{"s":"2000 m","g":1,"x":0.2,"y":4.12},{"s":"2000 m","g":1,"x":0.47,"y":3.84},{"s":"2000 m","g":1,"x":0.74,"y":3.6},{"s":"2000 m","g":1,"x":1.04,"y":3.33},{"s":"2000 m","g":1,"x":1.38,"y":3.03},{"s":"2000 m","g":1,"x":1.73,"y":2.68},{"s":"2000 m","g":1,"x":2.04,"y":2.37},
{"s":"2000 m","g":2,"x":-0.47,"y":-5.91},{"s":"2000 m","g":2,"x":-0.44,"y":-5.61},{"s":"2000 m","g":2,"x":-0.3,"y":-5.04},{"s":"2000 m","g":2,"x":-0.05,"y":-4.52},{"s":"2000 m","g":2,"x":0.25,"y":-4.12},{"s":"2000 m","g":2,"x":0.64,"y":-3.77},{"s":"2000 m","g":2,"x":1.04,"y":-3.42},{"s":"2000 m","g":2,"x":1.38,"y":-3.11},{"s":"2000 m","g":2,"x":1.63,"y":-2.85},{"s":"2000 m","g":2,"x":2.04,"y":-2.39}],
"b1a":[{"s":"0000 m","g":"ga","x":-4.75,"y":4.43},{"s":"0000 m","g":"ga","x":-4.31,"y":4.12},{"s":"0000 m","g":"ga","x":-4.53,"y":3.8},{"s":"0000 m","g":"ga","x":-4.6,"y":2.91},
{"s":"0000 m","g":"gb","x":-4.26,"y":-2.76},{"s":"0000 m","g":"gb","x":-4.7,"y":-3.33},{"s":"0000 m","g":"gb","x":-4.45,"y":-3.5},{"s":"0000 m","g":"gb","x":-4.37,"y":-4.43},
{"s":"1000 m","g":"ra","x":-3.51,"y":2.21},{"s":"1000 m","g":"ra","x":-3.93,"y":2.54},{"s":"1000 m","g":"ra","x":-3.76,"y":1.95},{"s":"1000 m","g":"ra","x":-3.82,"y":1.01},
{"s":"1000 m","g":"rb","x":-3.91,"y":-1.71},{"s":"1000 m","g":"rb","x":-3.46,"y":-1.42},{"s":"1000 m","g":"rb","x":-3.6,"y":-2.0},{"s":"1000 m","g":"rb","x":-3.58,"y":-2.94},
{"s":"3000 m","g":"ka","x":-1.94,"y":1.68},{"s":"3000 m","g":"ka","x":-2.35,"y":2.39},{"s":"3000 m","g":"ka","x":-2.25,"y":1.67},{"s":"3000 m","g":"ka","x":-2.32,"y":0.79},
{"s":"3000 m","g":"kb","x":-0.12,"y":-1.89},{"s":"3000 m","g":"kb","x":0.25,"y":-1.1},{"s":"3000 m","g":"kb","x":0.18,"y":-1.89},{"s":"3000 m","g":"kb","x":0.26,"y":-2.65},
{"s":"2000 m","g":"ma","x":0.445,"y":3.93},{"s":"2000 m","g":"ma","x":0.865,"y":4.34},{"s":"2000 m","g":"ma","x":0.73,"y":3.65},{"s":"2000 m","g":"ma","x":0.77,"y":2.79},
{"s":"2000 m","g":"mb","x":1.63,"y":-2.76},{"s":"2000 m","g":"mb","x":1.19,"y":-2.46},{"s":"2000 m","g":"mb","x":1.33,"y":-3.1},{"s":"2000 m","g":"mb","x":1.31,"y":-3.99}],
"b2g":[{"s":"0000 m","x":-24.1,"y":-17.6},{"s":"0000 m","x":-22.3,"y":-17.3},{"s":"0000 m","x":-19.6,"y":-16.6},{"s":"0000 m","x":-16.6,"y":-15.4},{"s":"0000 m","x":-13.6,"y":-13.9},{"s":"0000 m","x":-10.6,"y":-11.9},{"s":"0000 m","x":-8.0,"y":-9.3},{"s":"0000 m","x":-6.1,"y":-6.6},{"s":"0000 m","x":-4.8,"y":-3.3},{"s":"0000 m","x":-4.3,"y":-1.3},{"s":"0000 m","x":-4.1,"y":0},{"s":"0000 m","x":-4.3,"y":1.3},{"s":"0000 m","x":-4.8,"y":3.3},{"s":"0000 m","x":-6.1,"y":6.6},{"s":"0000 m","x":-8.0,"y":9.3},{"s":"0000 m","x":-10.6,"y":11.9},{"s":"0000 m","x":-13.6,"y":13.9},{"s":"0000 m","x":-16.6,"y":15.4},{"s":"0000 m","x":-19.6,"y":16.6},{"s":"0000 m","x":-22.3,"y":17.3},{"s":"0000 m","x":-24.1,"y":17.6}],
"b2m":[{"s":"2000 m","x":-18.8,"y":0},{"s":"2000 m","x":-18.1,"y":6.6},{"s":"2000 m","x":-15.9,"y":11.3},{"s":"2000 m","x":-12.9,"y":14.3},{"s":"2000 m","x":-9.1,"y":16.6},{"s":"2000 m","x":-5.4,"y":17.9},{"s":"2000 m","x":-2.4,"y":18.3},{"s":"2000 m","x":1.3,"y":18.1},{"s":"2000 m","x":5.1,"y":16.6},{"s":"2000 m","x":8.8,"y":14.6},{"s":"2000 m","x":12.6,"y":12.6},{"s":"2000 m","x":17.1,"y":10.3},{"s":"2000 m","x":20.8,"y":7.9},{"s":"2000 m","x":23.8,"y":5.3},{"s":"2000 m","x":26.1,"y":2.3},{"s":"2000 m","x":26.6,"y":0},{"s":"2000 m","x":27.0,"y":-4.1},{"s":"2000 m","x":26.5,"y":-8.7},{"s":"2000 m","x":25.0,"y":-12.1},{"s":"2000 m","x":22.3,"y":-15.4},{"s":"2000 m","x":18.6,"y":-17.7},{"s":"2000 m","x":13.0,"y":-18.7},{"s":"2000 m","x":8.8,"y":-18.4},{"s":"2000 m","x":5.5,"y":-16.4},{"s":"2000 m","x":2.5,"y":-13.4},{"s":"2000 m","x":0.2,"y":-9.4},{"s":"2000 m","x":-0.5,"y":-6.1},{"s":"2000 m","x":-0.15,"y":-4.7},{"s":"2000 m","x":1.35,"y":-3.1},{"s":"2000 m","x":2.85,"y":-1.4},{"s":"2000 m","x":3.4,"y":0},{"s":"2000 m","x":2.85,"y":1.4},{"s":"2000 m","x":1.35,"y":3.1},{"s":"2000 m","x":-0.15,"y":4.7},{"s":"2000 m","x":-0.5,"y":6.1},{"s":"2000 m","x":0.2,"y":9.4},{"s":"2000 m","x":2.5,"y":13.4},{"s":"2000 m","x":5.5,"y":16.4},{"s":"2000 m","x":8.8,"y":18.4},{"s":"2000 m","x":13.0,"y":18.7},{"s":"2000 m","x":18.6,"y":17.7},{"s":"2000 m","x":22.3,"y":15.4},{"s":"2000 m","x":25.0,"y":12.1},{"s":"2000 m","x":26.5,"y":8.7},{"s":"2000 m","x":27.0,"y":4.1},{"s":"2000 m","x":26.6,"y":0},{"s":"2000 m","x":26.1,"y":-2.3},{"s":"2000 m","x":23.8,"y":-5.3},{"s":"2000 m","x":20.8,"y":-7.9},{"s":"2000 m","x":17.1,"y":-10.3},{"s":"2000 m","x":12.6,"y":-12.6},{"s":"2000 m","x":8.8,"y":-14.6},{"s":"2000 m","x":5.1,"y":-16.6},{"s":"2000 m","x":1.3,"y":-18.1},{"s":"2000 m","x":-2.4,"y":-18.3},{"s":"2000 m","x":-5.4,"y":-17.9},{"s":"2000 m","x":-9.1,"y":-16.6},{"s":"2000 m","x":-12.9,"y":-14.3},{"s":"2000 m","x":-15.9,"y":-11.3},{"s":"2000 m","x":-18.1,"y":-6.6},{"s":"2000 m","x":-18.8,"y":0}],
"b2a":[{"s":"0000 m","g":"ga","x":-22.45,"y":17.3},{"s":"0000 m","g":"ga","x":-19.3,"y":22.6},{"s":"0000 m","g":"ga","x":-20.0,"y":16.9},{"s":"0000 m","g":"ga","x":-19.6,"y":10.3},
{"s":"0000 m","g":"gb","x":-18.9,"y":-16.4},{"s":"0000 m","g":"gb","x":-22.1,"y":-11.3},{"s":"0000 m","g":"gb","x":-21.3,"y":-16.6},{"s":"0000 m","g":"gb","x":-21.9,"y":-23.4},
{"s":"2000 m","g":"ma","x":-2.4,"y":18.6},{"s":"2000 m","g":"ma","x":-5.66,"y":23.8},{"s":"2000 m","g":"ma","x":-5.0,"y":17.9},{"s":"2000 m","g":"ma","x":-5.4,"y":11.6},
{"s":"2000 m","g":"mb","x":15.6,"y":-18.4},{"s":"2000 m","g":"mb","x":18.3,"y":-11.3},{"s":"2000 m","g":"mb","x":17.9,"y":-17.8},{"s":"2000 m","g":"mb","x":18.8,"y":-23.4}],
"b2box":[{"x":-4.87,"y":5.4},{"x":2.24,"y":5.4},{"x":2.24,"y":-5.74},{"x":-4.87,"y":-5.74},{"x":-4.87,"y":5.4}],
"b2hd":[{"x":-2.44,"y":51.49},{"x":-2.02,"y":48.52},{"x":-1.67,"y":46.75},{"x":-1.41,"y":45.17},{"x":-2.44,"y":46.06},{"x":-3.47,"y":45.17},{"x":-3.21,"y":46.75},{"x":-2.86,"y":48.52}],
"b3g":[{"s":"0000 m","x":49.9,"y":0},{"s":"0000 m","x":50.8,"y":7.6},{"s":"0000 m","x":54.8,"y":16.5},{"s":"0000 m","x":59.0,"y":26.7},{"s":"0000 m","x":62.1,"y":36.9},{"s":"0000 m","x":63.2,"y":49.6},{"s":"0000 m","x":62.5,"y":62.3},{"s":"0000 m","x":59.7,"y":77.6},{"s":"0000 m","x":54.8,"y":90.3},{"s":"0000 m","x":46.3,"y":104.3},{"s":"0000 m","x":36.5,"y":114.5},{"s":"0000 m","x":25.2,"y":120.9},{"s":"0000 m","x":11.1,"y":125.4},{"s":"0000 m","x":-3.0,"y":127.2},{"s":"0000 m","x":-12.8,"y":127.5},{"s":"0000 m","x":-25.5,"y":126.5},{"s":"0000 m","x":-39.6,"y":122.1},{"s":"0000 m","x":-53.7,"y":114.5},{"s":"0000 m","x":-64.9,"y":104.3},{"s":"0000 m","x":-74.8,"y":92.9},{"s":"0000 m","x":-82.5,"y":77.6},{"s":"0000 m","x":-87.5,"y":64.9},{"s":"0000 m","x":-88.9,"y":52.2},{"s":"0000 m","x":-88.2,"y":36.9},{"s":"0000 m","x":-84.6,"y":24.2},{"s":"0000 m","x":-79.0,"y":12.7},{"s":"0000 m","x":-73.4,"y":5.1},{"s":"0000 m","x":-67.7,"y":0},
{"s":"0000 m","x":-60.7,"y":-6.4},{"s":"0000 m","x":-50.8,"y":-14.0},{"s":"0000 m","x":-39.6,"y":-19.1},{"s":"0000 m","x":-28.3,"y":-21.1},{"s":"0000 m","x":-18.5,"y":-19.6},{"s":"0000 m","x":-10.0,"y":-15.3},{"s":"0000 m","x":-5.1,"y":-8.9},{"s":"0000 m","x":-3.2,"y":-2.5},{"s":"0000 m","x":-3.0,"y":0},
{"s":"0000 m","x":-3.2,"y":2.5},{"s":"0000 m","x":-5.1,"y":8.9},{"s":"0000 m","x":-10.0,"y":15.3},{"s":"0000 m","x":-18.5,"y":19.6},{"s":"0000 m","x":-28.3,"y":21.1},{"s":"0000 m","x":-39.6,"y":19.1},{"s":"0000 m","x":-50.8,"y":14.0},{"s":"0000 m","x":-60.7,"y":6.4},{"s":"0000 m","x":-67.7,"y":0},
{"s":"0000 m","x":-73.4,"y":-5.1},{"s":"0000 m","x":-79.0,"y":-12.7},{"s":"0000 m","x":-84.6,"y":-24.2},{"s":"0000 m","x":-88.2,"y":-36.9},{"s":"0000 m","x":-88.9,"y":-52.2},{"s":"0000 m","x":-87.5,"y":-64.9},{"s":"0000 m","x":-82.5,"y":-77.6},{"s":"0000 m","x":-74.8,"y":-92.9},{"s":"0000 m","x":-64.9,"y":-104.3},{"s":"0000 m","x":-53.7,"y":-114.5},{"s":"0000 m","x":-39.6,"y":-122.1},{"s":"0000 m","x":-25.5,"y":-126.5},{"s":"0000 m","x":-12.8,"y":-127.5},{"s":"0000 m","x":-3.0,"y":-127.2},{"s":"0000 m","x":11.1,"y":-125.4},{"s":"0000 m","x":25.2,"y":-120.9},{"s":"0000 m","x":36.5,"y":-114.5},{"s":"0000 m","x":46.3,"y":-104.3},{"s":"0000 m","x":54.8,"y":-90.3},{"s":"0000 m","x":59.7,"y":-77.6},{"s":"0000 m","x":62.5,"y":-62.3},{"s":"0000 m","x":63.2,"y":-49.6},{"s":"0000 m","x":62.1,"y":-36.9},{"s":"0000 m","x":59.0,"y":-26.7},{"s":"0000 m","x":54.8,"y":-16.5},{"s":"0000 m","x":50.8,"y":-7.6},{"s":"0000 m","x":49.9,"y":0}],
"b3a":[{"s":"0000 m","g":"ga","x":-60.0,"y":113.2},{"s":"0000 m","g":"ga","x":-51.5,"y":139.2},{"s":"0000 m","g":"ga","x":-52.8,"y":115.5},{"s":"0000 m","g":"ga","x":-48.7,"y":99.2},
{"s":"0000 m","g":"gb","x":40.4,"y":-108.1},{"s":"0000 m","g":"gb","x":29.2,"y":-96.7},{"s":"0000 m","g":"gb","x":32.5,"y":-112.0},{"s":"0000 m","g":"gb","x":31.5,"y":-136.1}],
"b3box":[{"x":-21.9,"y":44.0},{"x":30.0,"y":44.0},{"x":30.0,"y":-43.3},{"x":-21.9,"y":-43.3},{"x":-21.9,"y":44.0}],
"b3hd":[{"x":9.8,"y":177.2},{"x":11.22,"y":166.4},{"x":12.33,"y":159.9},{"x":13.26,"y":154.0},{"x":9.8,"y":157.2},{"x":6.34,"y":154.0},{"x":7.27,"y":159.9},{"x":8.38,"y":166.4}]
},
"hconcat":[
{"vconcat":[
{"width":1360,"height":755,
 "layer":[
  {"data":{"name":"one"},"mark":{"type":"rule","color":"#808080","strokeWidth":2.5,"strokeDash":[3,4]},"encoding":{"y":{"datum":0,"type":"quantitative","scale":{"domain":[-7.213,6.133],"nice":false,"zero":false},"axis":null}}},
  {"data":{"name":"one"},"mark":{"type":"rule","color":"#808080","strokeWidth":2.5,"strokeDash":[3,4]},"encoding":{
    "x":{"datum":0,"type":"quantitative","scale":{"domain":[-6.04,1.0],"nice":false,"zero":false},"axis":{"orient":"bottom","values":[-6,-5,-4,-3,-2,-1,0],"ticks":false,"domainWidth":7,"labelPadding":-3,"labelBaseline":"alphabetic","labelOffset":10,"labelFontSize":51,"title":null}},
    "y":{"datum":-5.87,"type":"quantitative","scale":{"domain":[-7.213,6.133],"nice":false,"zero":false},"axis":{"orient":"left","values":[-5,0,5],"ticks":false,"domain":false,"labelPadding":37,"labelFontSize":51,"title":null}},
    "y2":{"datum":5.85}}},
  {"data":{"name":"a1g"},"mark":{"type":"line","strokeWidth":6},"encoding":{"x":{"field":"x","type":"quantitative","scale":{"domain":[-6.04,1.0],"nice":false,"zero":false},"axis":null},"y":{"field":"y","type":"quantitative","scale":{"domain":[-7.213,6.133],"nice":false,"zero":false},"axis":null},"color":{"field":"s","type":"nominal","scale":{"domain":["01 loads","02 loads","03 loads","04 loads"],"range":["#00a000","#ff0000","#000000","#bf00bf"]},"legend":null},"order":{"value":null}}},
  {"data":{"name":"a1r"},"mark":{"type":"line","strokeWidth":9},"encoding":{"x":{"field":"x","type":"quantitative","scale":{"domain":[-6.04,1.0],"nice":false,"zero":false},"axis":null},"y":{"field":"y","type":"quantitative","scale":{"domain":[-7.213,6.133],"nice":false,"zero":false},"axis":null},"color":{"field":"s","type":"nominal","scale":{"domain":["01 loads","02 loads","03 loads","04 loads"],"range":["#00a000","#ff0000","#000000","#bf00bf"]},"legend":null},"detail":{"field":"g"},"order":{"value":null}}},
  {"data":{"name":"a1k"},"mark":{"type":"line","strokeWidth":7},"encoding":{"x":{"field":"x","type":"quantitative","scale":{"domain":[-6.04,1.0],"nice":false,"zero":false},"axis":null},"y":{"field":"y","type":"quantitative","scale":{"domain":[-7.213,6.133],"nice":false,"zero":false},"axis":null},"color":{"field":"s","type":"nominal","scale":{"domain":["01 loads","02 loads","03 loads","04 loads"],"range":["#00a000","#ff0000","#000000","#bf00bf"]},"legend":null},"order":{"value":null}}},
  {"data":{"name":"a1m"},"mark":{"type":"line","strokeWidth":11},"encoding":{"x":{"field":"x","type":"quantitative","scale":{"domain":[-6.04,1.0],"nice":false,"zero":false},"axis":null},"y":{"field":"y","type":"quantitative","scale":{"domain":[-7.213,6.133],"nice":false,"zero":false},"axis":null},"color":{"field":"s","type":"nominal","scale":{"domain":["01 loads","02 loads","03 loads","04 loads"],"range":["#00a000","#ff0000","#000000","#bf00bf"]},"legend":null},"detail":{"field":"g"},"order":{"value":null}}},
  {"data":{"name":"a1a"},"mark":{"type":"line","filled":true,"interpolate":"linear-closed"},"encoding":{"x":{"field":"x","type":"quantitative","scale":{"domain":[-6.04,1.0],"nice":false,"zero":false},"axis":null},"y":{"field":"y","type":"quantitative","scale":{"domain":[-7.213,6.133],"nice":false,"zero":false},"axis":null},"color":{"field":"s","type":"nominal","scale":{"domain":["01 loads","02 loads","03 loads","04 loads"],"range":["#00a000","#ff0000","#000000","#bf00bf"]},"legend":null},"detail":{"field":"g"},"order":{"value":null}}},
  {"data":{"name":"one"},"mark":{"type":"point","shape":"M-1,0L1,0M0,-1L0,1","filled":false,"color":"#ff0000","strokeWidth":10,"size":3844,"opacity":1},"encoding":{"x":{"datum":-1.02,"type":"quantitative","scale":{"domain":[-6.04,1.0],"nice":false,"zero":false},"axis":null},"y":{"datum":0,"type":"quantitative","scale":{"domain":[-7.213,6.133],"nice":false,"zero":false},"axis":null}}},
  {"data":{"name":"one"},"mark":{"type":"rule","color":"black","strokeWidth":8,"strokeCap":"square"},"encoding":{
    "x":{"datum":-6.04,"type":"quantitative","scale":{"domain":[-6.04,1.0],"nice":false,"zero":false},"axis":{"orient":"bottom","offset":-739,"values":[-6,-5,-4,-3,-2,-1,0],"labels":false,"domainWidth":9,"title":null}},
    "y":{"datum":-7.213,"type":"quantitative","scale":{"domain":[-7.213,6.133],"nice":false,"zero":false},"axis":{"orient":"left","offset":-1360,"values":[-5,0,5],"labels":false,"domain":false,"title":null}},
    "y2":{"datum":5.85}}},
  {"data":{"name":"one"},"mark":{"type":"rule","color":"black","strokeWidth":8,"strokeCap":"square"},"encoding":{
    "x":{"datum":1.0,"type":"quantitative","scale":{"domain":[-6.04,1.0],"nice":false,"zero":false},"axis":{"orient":"top","offset":-679,"values":[-6,-5,-4,-3,-2,-1,0],"labels":false,"domainWidth":8,"title":null}},
    "y":{"datum":-7.213,"type":"quantitative","scale":{"domain":[-7.213,6.133],"nice":false,"zero":false},"axis":{"orient":"right","offset":-1360,"values":[-5,0,5],"labels":false,"domain":false,"title":null}},
    "y2":{"datum":5.85}}}
 ],
 "resolve":{"axis":{"x":"independent","y":"independent"}}},
{"width":1360,"height":820.5,
 "layer":[
  {"data":{"name":"one"},"mark":{"type":"rule","color":"#808080","strokeWidth":2.5,"strokeDash":[3,4]},"encoding":{"y":{"datum":0,"type":"quantitative","scale":{"domain":[-54.91,55.13],"nice":false,"zero":false},"axis":null}}},
  {"data":{"name":"one"},"mark":{"type":"rule","color":"#808080","strokeWidth":2.5,"strokeDash":[3,4]},"encoding":{
    "x":{"datum":0,"type":"quantitative","scale":{"domain":[-24.6,28.75],"nice":false,"zero":false},"axis":{"orient":"bottom","values":[-20,-10,0,10,20],"ticks":false,"domainWidth":7,"labelPadding":-14.5,"labelBaseline":"alphabetic","labelOffset":0,"labelFontSize":51,"title":null}},
    "y":{"datum":-44.65,"type":"quantitative","scale":{"domain":[-54.91,55.13],"nice":false,"zero":false},"axis":{"orient":"left","values":[-40,-20,0,20,40],"ticks":false,"domain":false,"labelPadding":22,"labelFontSize":51,"title":null}},
    "y2":{"datum":44.0}}},
  {"data":{"name":"a2box"},"mark":{"type":"line","color":"black","strokeWidth":5,"strokeDash":[26,14],"strokeCap":"butt","interpolate":"linear"},"encoding":{"x":{"field":"x","type":"quantitative","scale":{"domain":[-24.6,28.75],"nice":false,"zero":false},"axis":null},"y":{"field":"y","type":"quantitative","scale":{"domain":[-54.91,55.13],"nice":false,"zero":false},"axis":null},"order":{"value":null}}},
  {"data":{"name":"one"},"mark":{"type":"rule","color":"black","strokeWidth":9},"encoding":{"x":{"datum":-3.26,"type":"quantitative","scale":{"domain":[-24.6,28.75],"nice":false,"zero":false},"axis":null},"y":{"datum":8.65,"type":"quantitative","scale":{"domain":[-54.91,55.13],"nice":false,"zero":false},"axis":null},"y2":{"datum":47.0}}},
  {"data":{"name":"a2hd"},"mark":{"type":"line","filled":true,"color":"black","interpolate":"linear-closed"},"encoding":{"x":{"field":"x","type":"quantitative","scale":{"domain":[-24.6,28.75],"nice":false,"zero":false},"axis":null},"y":{"field":"y","type":"quantitative","scale":{"domain":[-54.91,55.13],"nice":false,"zero":false},"axis":null},"order":{"value":null}}},
  {"data":{"name":"a2g"},"mark":{"type":"line","strokeWidth":8},"encoding":{"x":{"field":"x","type":"quantitative","scale":{"domain":[-24.6,28.75],"nice":false,"zero":false},"axis":null},"y":{"field":"y","type":"quantitative","scale":{"domain":[-54.91,55.13],"nice":false,"zero":false},"axis":null},"color":{"field":"s","type":"nominal","scale":{"domain":["01 loads","02 loads","03 loads","04 loads"],"range":["#00a000","#ff0000","#000000","#bf00bf"]},"legend":null},"order":{"value":null}}},
  {"data":{"name":"a1r"},"mark":{"type":"line","strokeWidth":10},"encoding":{"x":{"field":"x","type":"quantitative","scale":{"domain":[-24.6,28.75],"nice":false,"zero":false},"axis":null},"y":{"field":"y","type":"quantitative","scale":{"domain":[-54.91,55.13],"nice":false,"zero":false},"axis":null},"color":{"field":"s","type":"nominal","scale":{"domain":["01 loads","02 loads","03 loads","04 loads"],"range":["#00a000","#ff0000","#000000","#bf00bf"]},"legend":null},"detail":{"field":"g"},"order":{"value":null}}},
  {"data":{"name":"a2k"},"mark":{"type":"line","strokeWidth":9},"encoding":{"x":{"field":"x","type":"quantitative","scale":{"domain":[-24.6,28.75],"nice":false,"zero":false},"axis":null},"y":{"field":"y","type":"quantitative","scale":{"domain":[-54.91,55.13],"nice":false,"zero":false},"axis":null},"color":{"field":"s","type":"nominal","scale":{"domain":["01 loads","02 loads","03 loads","04 loads"],"range":["#00a000","#ff0000","#000000","#bf00bf"]},"legend":null},"order":{"value":null}}},
  {"data":{"name":"a2m"},"mark":{"type":"line","strokeWidth":9},"encoding":{"x":{"field":"x","type":"quantitative","scale":{"domain":[-24.6,28.75],"nice":false,"zero":false},"axis":null},"y":{"field":"y","type":"quantitative","scale":{"domain":[-54.91,55.13],"nice":false,"zero":false},"axis":null},"color":{"field":"s","type":"nominal","scale":{"domain":["01 loads","02 loads","03 loads","04 loads"],"range":["#00a000","#ff0000","#000000","#bf00bf"]},"legend":null},"detail":{"field":"g"},"order":{"value":null}}},
  {"data":{"name":"a2a"},"mark":{"type":"line","filled":true,"interpolate":"linear-closed"},"encoding":{"x":{"field":"x","type":"quantitative","scale":{"domain":[-24.6,28.75],"nice":false,"zero":false},"axis":null},"y":{"field":"y","type":"quantitative","scale":{"domain":[-54.91,55.13],"nice":false,"zero":false},"axis":null},"color":{"field":"s","type":"nominal","scale":{"domain":["01 loads","02 loads","03 loads","04 loads"],"range":["#00a000","#ff0000","#000000","#bf00bf"]},"legend":null},"detail":{"field":"g"},"order":{"value":null}}},
  {"data":{"name":"one"},"mark":{"type":"rule","color":"black","strokeWidth":8,"strokeCap":"square"},"encoding":{
    "x":{"datum":-24.6,"type":"quantitative","scale":{"domain":[-24.6,28.75],"nice":false,"zero":false},"axis":{"orient":"bottom","offset":-737.5,"values":[-20,-10,0,10,20],"labels":false,"domainWidth":9,"title":null}},
    "y":{"datum":-54.91,"type":"quantitative","scale":{"domain":[-54.91,55.13],"nice":false,"zero":false},"axis":{"orient":"left","offset":-1360,"values":[-40,-20,0,20,40],"labels":false,"domain":false,"title":null}},
    "y2":{"datum":44.0}}},
  {"data":{"name":"one"},"mark":{"type":"rule","color":"black","strokeWidth":8,"strokeCap":"square"},"encoding":{
    "x":{"datum":28.75,"type":"quantitative","scale":{"domain":[-24.6,28.75],"nice":false,"zero":false},"axis":{"orient":"top","offset":-744,"values":[-20,-10,0,10,20],"labels":false,"domainWidth":8,"title":null}},
    "y":{"datum":-54.91,"type":"quantitative","scale":{"domain":[-54.91,55.13],"nice":false,"zero":false},"axis":{"orient":"right","offset":-1360,"values":[-40,-20,0,20,40],"labels":false,"domain":false,"title":null}},
    "y2":{"datum":44.0}}}
 ],
 "resolve":{"axis":{"x":"independent","y":"independent"}}},
{"width":1360,"height":724.5,
 "title":{"text":"(a) Nyquist plot for different penetrations.","orient":"bottom","anchor":"start","frame":"group","offset":202,"dx":-92,"baseline":"alphabetic","font":"Liberation Serif","fontSize":82,"fontWeight":"normal","color":"black"},
 "layer":[
  {"data":{"name":"one"},"mark":{"type":"rule","color":"#808080","strokeWidth":2.5,"strokeDash":[3,4]},"encoding":{"y":{"datum":0,"type":"quantitative","scale":{"domain":[-150,178.82],"nice":false,"zero":false},"axis":null}}},
  {"data":{"name":"one"},"mark":{"type":"rule","color":"#808080","strokeWidth":2.5,"strokeDash":[3,4]},"encoding":{
    "x":{"datum":0,"type":"quantitative","scale":{"domain":[-100,80.8],"nice":false,"zero":false},"axis":{"orient":"bottom","values":[-100,-80,-60,-40,-20,0,20,40,60,80],"ticks":false,"domainWidth":8,"labelPadding":75,"labelBaseline":"alphabetic","labelOffset":11,"labelFontSize":51,"title":"Real Axis","titleFontSize":66,"titleX":571,"titleY":153,"titleBaseline":"alphabetic","titleAlign":"center"}},
    "y":{"datum":-150,"type":"quantitative","scale":{"domain":[-150,178.82],"nice":false,"zero":false},"axis":{"orient":"left","values":[-150,-100,-50,0,50,100,150],"ticks":false,"domain":false,"labelPadding":22,"labelFontSize":51,"title":"Imaginary Axis","titleFontSize":70,"titleX":-127,"titleY":358.5,"titleAngle":-90,"titleBaseline":"alphabetic","titleAlign":"center"}},
    "y2":{"datum":150}}},
  {"data":{"name":"a3box"},"mark":{"type":"line","color":"black","strokeWidth":5,"strokeDash":[26,14],"strokeCap":"butt","interpolate":"linear"},"encoding":{"x":{"field":"x","type":"quantitative","scale":{"domain":[-100,80.8],"nice":false,"zero":false},"axis":null},"y":{"field":"y","type":"quantitative","scale":{"domain":[-150,178.82],"nice":false,"zero":false},"axis":null},"order":{"value":null}}},
  {"data":{"name":"one"},"mark":{"type":"rule","color":"black","strokeWidth":9},"encoding":{"x":{"datum":11.7,"type":"quantitative","scale":{"domain":[-100,80.8],"nice":false,"zero":false},"axis":null},"y":{"datum":39.8,"type":"quantitative","scale":{"domain":[-150,178.82],"nice":false,"zero":false},"axis":null},"y2":{"datum":156}}},
  {"data":{"name":"a3hd"},"mark":{"type":"line","filled":true,"color":"black","interpolate":"linear-closed"},"encoding":{"x":{"field":"x","type":"quantitative","scale":{"domain":[-100,80.8],"nice":false,"zero":false},"axis":null},"y":{"field":"y","type":"quantitative","scale":{"domain":[-150,178.82],"nice":false,"zero":false},"axis":null},"order":{"value":null}}},
  {"data":{"name":"a3g"},"mark":{"type":"line","strokeWidth":10},"encoding":{"x":{"field":"x","type":"quantitative","scale":{"domain":[-100,80.8],"nice":false,"zero":false},"axis":null},"y":{"field":"y","type":"quantitative","scale":{"domain":[-150,178.82],"nice":false,"zero":false},"axis":null},"color":{"field":"s","type":"nominal","scale":{"domain":["01 loads","02 loads","03 loads","04 loads"],"range":["#00a000","#ff0000","#000000","#bf00bf"]},"legend":{"orient":"none","legendX":1107.7,"legendY":67.2,"title":null,"strokeColor":"black","padding":0,"symbolType":"M-1.33,0L1.33,0","symbolSize":2116,"symbolStrokeWidth":10,"symbolOffset":13.9,"labelOffset":29.4,"rowPadding":6.7,"labelFont":"Liberation Serif","labelFontWeight":"bold","labelFontSize":42,"labelColor":"black","labelLimit":400}},"order":{"value":null}}},
  {"data":{"name":"a1r"},"mark":{"type":"line","strokeWidth":8},"encoding":{"x":{"field":"x","type":"quantitative","scale":{"domain":[-100,80.8],"nice":false,"zero":false},"axis":null},"y":{"field":"y","type":"quantitative","scale":{"domain":[-150,178.82],"nice":false,"zero":false},"axis":null},"color":{"field":"s","type":"nominal","scale":{"domain":["01 loads","02 loads","03 loads","04 loads"],"range":["#00a000","#ff0000","#000000","#bf00bf"]}},"detail":{"field":"g"},"order":{"value":null}}},
  {"data":{"name":"a2k"},"mark":{"type":"line","strokeWidth":9},"encoding":{"x":{"field":"x","type":"quantitative","scale":{"domain":[-100,80.8],"nice":false,"zero":false},"axis":null},"y":{"field":"y","type":"quantitative","scale":{"domain":[-150,178.82],"nice":false,"zero":false},"axis":null},"color":{"field":"s","type":"nominal","scale":{"domain":["01 loads","02 loads","03 loads","04 loads"],"range":["#00a000","#ff0000","#000000","#bf00bf"]}},"order":{"value":null}}},
  {"data":{"name":"a2m"},"mark":{"type":"line","strokeWidth":10},"encoding":{"x":{"field":"x","type":"quantitative","scale":{"domain":[-100,80.8],"nice":false,"zero":false},"axis":null},"y":{"field":"y","type":"quantitative","scale":{"domain":[-150,178.82],"nice":false,"zero":false},"axis":null},"color":{"field":"s","type":"nominal","scale":{"domain":["01 loads","02 loads","03 loads","04 loads"],"range":["#00a000","#ff0000","#000000","#bf00bf"]}},"detail":{"field":"g"},"order":{"value":null}}},
  {"data":{"name":"a3a"},"mark":{"type":"line","filled":true,"interpolate":"linear-closed"},"encoding":{"x":{"field":"x","type":"quantitative","scale":{"domain":[-100,80.8],"nice":false,"zero":false},"axis":null},"y":{"field":"y","type":"quantitative","scale":{"domain":[-150,178.82],"nice":false,"zero":false},"axis":null},"color":{"field":"s","type":"nominal","scale":{"domain":["01 loads","02 loads","03 loads","04 loads"],"range":["#00a000","#ff0000","#000000","#bf00bf"]}},"detail":{"field":"g"},"order":{"value":null}}},
  {"data":{"name":"a2a"},"transform":[{"filter":"datum.s === '03 loads'"}],"mark":{"type":"line","filled":true,"interpolate":"linear-closed"},"encoding":{"x":{"field":"x","type":"quantitative","scale":{"domain":[-100,80.8],"nice":false,"zero":false},"axis":null},"y":{"field":"y","type":"quantitative","scale":{"domain":[-150,178.82],"nice":false,"zero":false},"axis":null},"color":{"field":"s","type":"nominal","scale":{"domain":["01 loads","02 loads","03 loads","04 loads"],"range":["#00a000","#ff0000","#000000","#bf00bf"]}},"detail":{"field":"g"},"order":{"value":null}}},
  {"data":{"name":"one"},"mark":{"type":"rule","color":"black","strokeWidth":8,"strokeCap":"square"},"encoding":{
    "x":{"datum":-100,"type":"quantitative","scale":{"domain":[-100,80.8],"nice":false,"zero":false},"axis":{"orient":"bottom","offset":-661,"values":[-100,-80,-60,-40,-20,0,20,40,60,80],"labels":false,"domainWidth":9,"title":null}},
    "y":{"datum":-150,"type":"quantitative","scale":{"domain":[-150,178.82],"nice":false,"zero":false},"axis":{"orient":"left","offset":-1360,"values":[-150,-100,-50,0,50,100,150],"labels":false,"domain":false,"title":null}},
    "y2":{"datum":150}}},
  {"data":{"name":"one"},"mark":{"type":"rule","color":"black","strokeWidth":8,"strokeCap":"square"},"encoding":{
    "x":{"datum":80.8,"type":"quantitative","scale":{"domain":[-100,80.8],"nice":false,"zero":false},"axis":{"orient":"top","offset":-724.5,"values":[-100,-80,-60,-40,-20,0,20,40,60,80],"labels":false,"domainWidth":8,"title":null}},
    "y":{"datum":-150,"type":"quantitative","scale":{"domain":[-150,178.82],"nice":false,"zero":false},"axis":{"orient":"right","offset":-1360,"values":[-150,-100,-50,0,50,100,150],"labels":false,"domain":false,"title":null}},
    "y2":{"datum":150}}}
 ],
 "resolve":{"axis":{"x":"independent","y":"independent"}}}
],"spacing":0,"bounds":"flush","resolve":{"scale":{"color":"independent"}}},
{"vconcat":[
{"width":1352,"height":746.5,
 "layer":[
  {"data":{"name":"one"},"mark":{"type":"rule","color":"#808080","strokeWidth":2.5,"strokeDash":[3,4]},"encoding":{"y":{"datum":0,"type":"quantitative","scale":{"domain":[-7.19,5.81],"nice":false,"zero":false},"axis":null}}},
  {"data":{"name":"one"},"mark":{"type":"rule","color":"#808080","strokeWidth":2.5,"strokeDash":[3,4]},"encoding":{
    "x":{"datum":0,"type":"quantitative","scale":{"domain":[-5.01,2.04],"nice":false,"zero":false},"axis":{"orient":"bottom","values":[-4,-3,-2,-1,0,1,2],"ticks":false,"domainWidth":7,"labelPadding":-4.5,"labelBaseline":"alphabetic","labelOffset":-6,"labelFontSize":53,"title":null}},
    "y":{"datum":-5.91,"type":"quantitative","scale":{"domain":[-7.19,5.81],"nice":false,"zero":false},"axis":{"orient":"left","values":[-5,0,5],"ticks":false,"domain":false,"labelPadding":21,"labelFontSize":53,"title":null}},
    "y2":{"datum":5.81}}},
  {"data":{"name":"b1g"},"mark":{"type":"line","strokeWidth":7},"encoding":{"x":{"field":"x","type":"quantitative","scale":{"domain":[-5.01,2.04],"nice":false,"zero":false},"axis":null},"y":{"field":"y","type":"quantitative","scale":{"domain":[-7.19,5.81],"nice":false,"zero":false},"axis":null},"color":{"field":"s","type":"nominal","scale":{"domain":["0000 m","1000 m","2000 m","3000 m"],"range":["#00a000","#ff0000","#bf00bf","#000000"]},"legend":null},"order":{"value":null}}},
  {"data":{"name":"b1r"},"mark":{"type":"line","strokeWidth":8},"encoding":{"x":{"field":"x","type":"quantitative","scale":{"domain":[-5.01,2.04],"nice":false,"zero":false},"axis":null},"y":{"field":"y","type":"quantitative","scale":{"domain":[-7.19,5.81],"nice":false,"zero":false},"axis":null},"color":{"field":"s","type":"nominal","scale":{"domain":["0000 m","1000 m","2000 m","3000 m"],"range":["#00a000","#ff0000","#bf00bf","#000000"]},"legend":null},"order":{"value":null}}},
  {"data":{"name":"b1m"},"mark":{"type":"line","strokeWidth":8},"encoding":{"x":{"field":"x","type":"quantitative","scale":{"domain":[-5.01,2.04],"nice":false,"zero":false},"axis":null},"y":{"field":"y","type":"quantitative","scale":{"domain":[-7.19,5.81],"nice":false,"zero":false},"axis":null},"color":{"field":"s","type":"nominal","scale":{"domain":["0000 m","1000 m","2000 m","3000 m"],"range":["#00a000","#ff0000","#bf00bf","#000000"]},"legend":null},"detail":{"field":"g"},"order":{"value":null}}},
  {"data":{"name":"b1k"},"mark":{"type":"line","strokeWidth":8},"encoding":{"x":{"field":"x","type":"quantitative","scale":{"domain":[-5.01,2.04],"nice":false,"zero":false},"axis":null},"y":{"field":"y","type":"quantitative","scale":{"domain":[-7.19,5.81],"nice":false,"zero":false},"axis":null},"color":{"field":"s","type":"nominal","scale":{"domain":["0000 m","1000 m","2000 m","3000 m"],"range":["#00a000","#ff0000","#bf00bf","#000000"]},"legend":null},"order":{"value":null}}},
  {"data":{"name":"b1a"},"mark":{"type":"line","filled":true,"interpolate":"linear-closed"},"encoding":{"x":{"field":"x","type":"quantitative","scale":{"domain":[-5.01,2.04],"nice":false,"zero":false},"axis":null},"y":{"field":"y","type":"quantitative","scale":{"domain":[-7.19,5.81],"nice":false,"zero":false},"axis":null},"color":{"field":"s","type":"nominal","scale":{"domain":["0000 m","1000 m","2000 m","3000 m"],"range":["#00a000","#ff0000","#bf00bf","#000000"]},"legend":null},"detail":{"field":"g"},"order":{"value":null}}},
  {"data":{"name":"one"},"mark":{"type":"point","shape":"M-1,0L1,0M0,-1L0,1","filled":false,"color":"#ff0000","strokeWidth":10,"size":4356,"opacity":1},"encoding":{"x":{"datum":-0.99,"type":"quantitative","scale":{"domain":[-5.01,2.04],"nice":false,"zero":false},"axis":null},"y":{"datum":0,"type":"quantitative","scale":{"domain":[-7.19,5.81],"nice":false,"zero":false},"axis":null}}},
  {"data":{"name":"one"},"mark":{"type":"rule","color":"black","strokeWidth":8,"strokeCap":"square"},"encoding":{
    "x":{"datum":-5.01,"type":"quantitative","scale":{"domain":[-5.01,2.04],"nice":false,"zero":false},"axis":{"orient":"bottom","offset":-746.5,"values":[-4,-3,-2,-1,0,1,2],"labels":false,"domainWidth":9,"title":null}},
    "y":{"datum":-7.19,"type":"quantitative","scale":{"domain":[-7.19,5.81],"nice":false,"zero":false},"axis":{"orient":"left","offset":-1352,"values":[-5,0,5],"labels":false,"domain":false,"title":null}},
    "y2":{"datum":5.81}}},
  {"data":{"name":"one"},"mark":{"type":"rule","color":"black","strokeWidth":8,"strokeCap":"square"},"encoding":{
    "x":{"datum":2.04,"type":"quantitative","scale":{"domain":[-5.01,2.04],"nice":false,"zero":false},"axis":{"orient":"top","offset":-673,"values":[-4,-3,-2,-1,0,1,2],"labels":false,"domainWidth":8,"title":null}},
    "y":{"datum":-7.19,"type":"quantitative","scale":{"domain":[-7.19,5.81],"nice":false,"zero":false},"axis":{"orient":"right","offset":-1352,"values":[-5,0,5],"labels":false,"domain":false,"title":null}},
    "y2":{"datum":5.81}}}
 ],
 "resolve":{"axis":{"x":"independent","y":"independent"}}},
{"width":1352,"height":799.5,
 "layer":[
  {"data":{"name":"one"},"mark":{"type":"rule","color":"#808080","strokeWidth":2.5,"strokeDash":[3,4]},"encoding":{"y":{"datum":0,"type":"quantitative","scale":{"domain":[-53.98,51.82],"nice":false,"zero":false},"axis":null}}},
  {"data":{"name":"one"},"mark":{"type":"rule","color":"#808080","strokeWidth":2.5,"strokeDash":[3,4]},"encoding":{
    "x":{"datum":0,"type":"quantitative","scale":{"domain":[-24.1,29.3],"nice":false,"zero":false},"axis":{"orient":"bottom","values":[-20,-10,0,10,20],"ticks":false,"domainWidth":7,"labelPadding":-15.4,"labelBaseline":"alphabetic","labelOffset":12,"labelFontSize":53,"title":null}},
    "y":{"datum":-44.45,"type":"quantitative","scale":{"domain":[-53.98,51.82],"nice":false,"zero":false},"axis":{"orient":"left","values":[-40,-20,0,20,40],"ticks":false,"domain":false,"labelPadding":26,"labelFontSize":53,"title":null}},
    "y2":{"datum":44.34}}},
  {"data":{"name":"b2box"},"mark":{"type":"line","color":"black","strokeWidth":5,"strokeDash":[26,14],"strokeCap":"butt","interpolate":"linear"},"encoding":{"x":{"field":"x","type":"quantitative","scale":{"domain":[-24.1,29.3],"nice":false,"zero":false},"axis":null},"y":{"field":"y","type":"quantitative","scale":{"domain":[-53.98,51.82],"nice":false,"zero":false},"axis":null},"order":{"value":null}}},
  {"data":{"name":"one"},"mark":{"type":"rule","color":"black","strokeWidth":9},"encoding":{"x":{"datum":-2.44,"type":"quantitative","scale":{"domain":[-24.1,29.3],"nice":false,"zero":false},"axis":null},"y":{"datum":5.4,"type":"quantitative","scale":{"domain":[-53.98,51.82],"nice":false,"zero":false},"axis":null},"y2":{"datum":46.1}}},
  {"data":{"name":"b2hd"},"mark":{"type":"line","filled":true,"color":"black","interpolate":"linear-closed"},"encoding":{"x":{"field":"x","type":"quantitative","scale":{"domain":[-24.1,29.3],"nice":false,"zero":false},"axis":null},"y":{"field":"y","type":"quantitative","scale":{"domain":[-53.98,51.82],"nice":false,"zero":false},"axis":null},"order":{"value":null}}},
  {"data":{"name":"b2g"},"mark":{"type":"line","strokeWidth":9},"encoding":{"x":{"field":"x","type":"quantitative","scale":{"domain":[-24.1,29.3],"nice":false,"zero":false},"axis":null},"y":{"field":"y","type":"quantitative","scale":{"domain":[-53.98,51.82],"nice":false,"zero":false},"axis":null},"color":{"field":"s","type":"nominal","scale":{"domain":["0000 m","1000 m","2000 m","3000 m"],"range":["#00a000","#ff0000","#bf00bf","#000000"]},"legend":null},"order":{"value":null}}},
  {"data":{"name":"b1r"},"mark":{"type":"line","strokeWidth":8},"encoding":{"x":{"field":"x","type":"quantitative","scale":{"domain":[-24.1,29.3],"nice":false,"zero":false},"axis":null},"y":{"field":"y","type":"quantitative","scale":{"domain":[-53.98,51.82],"nice":false,"zero":false},"axis":null},"color":{"field":"s","type":"nominal","scale":{"domain":["0000 m","1000 m","2000 m","3000 m"],"range":["#00a000","#ff0000","#bf00bf","#000000"]},"legend":null},"order":{"value":null}}},
  {"data":{"name":"b2m"},"mark":{"type":"line","strokeWidth":10},"encoding":{"x":{"field":"x","type":"quantitative","scale":{"domain":[-24.1,29.3],"nice":false,"zero":false},"axis":null},"y":{"field":"y","type":"quantitative","scale":{"domain":[-53.98,51.82],"nice":false,"zero":false},"axis":null},"color":{"field":"s","type":"nominal","scale":{"domain":["0000 m","1000 m","2000 m","3000 m"],"range":["#00a000","#ff0000","#bf00bf","#000000"]},"legend":null},"order":{"value":null}}},
  {"data":{"name":"b1k"},"mark":{"type":"line","strokeWidth":11},"encoding":{"x":{"field":"x","type":"quantitative","scale":{"domain":[-24.1,29.3],"nice":false,"zero":false},"axis":null},"y":{"field":"y","type":"quantitative","scale":{"domain":[-53.98,51.82],"nice":false,"zero":false},"axis":null},"color":{"field":"s","type":"nominal","scale":{"domain":["0000 m","1000 m","2000 m","3000 m"],"range":["#00a000","#ff0000","#bf00bf","#000000"]},"legend":null},"order":{"value":null}}},
  {"data":{"name":"b2a"},"mark":{"type":"line","filled":true,"interpolate":"linear-closed"},"encoding":{"x":{"field":"x","type":"quantitative","scale":{"domain":[-24.1,29.3],"nice":false,"zero":false},"axis":null},"y":{"field":"y","type":"quantitative","scale":{"domain":[-53.98,51.82],"nice":false,"zero":false},"axis":null},"color":{"field":"s","type":"nominal","scale":{"domain":["0000 m","1000 m","2000 m","3000 m"],"range":["#00a000","#ff0000","#bf00bf","#000000"]},"legend":null},"detail":{"field":"g"},"order":{"value":null}}},
  {"data":{"name":"one"},"mark":{"type":"point","shape":"M-1,0L1,0M0,-1L0,1","filled":false,"color":"#ff0000","strokeWidth":3,"size":324,"opacity":1},"encoding":{"x":{"datum":-1.0,"type":"quantitative","scale":{"domain":[-24.1,29.3],"nice":false,"zero":false},"axis":null},"y":{"datum":0,"type":"quantitative","scale":{"domain":[-53.98,51.82],"nice":false,"zero":false},"axis":null}}},
  {"data":{"name":"one"},"mark":{"type":"rule","color":"black","strokeWidth":8,"strokeCap":"square"},"encoding":{
    "x":{"datum":-24.1,"type":"quantitative","scale":{"domain":[-24.1,29.3],"nice":false,"zero":false},"axis":{"orient":"bottom","offset":-743,"values":[-20,-10,0,10,20],"labels":false,"domainWidth":12,"title":null}},
    "y":{"datum":-53.98,"type":"quantitative","scale":{"domain":[-53.98,51.82],"nice":false,"zero":false},"axis":{"orient":"left","offset":-1352,"values":[-40,-20,0,20,40],"labels":false,"domain":false,"title":null}},
    "y2":{"datum":44.34}}},
  {"data":{"name":"one"},"mark":{"type":"rule","color":"black","strokeWidth":8,"strokeCap":"square"},"encoding":{
    "x":{"datum":29.3,"type":"quantitative","scale":{"domain":[-24.1,29.3],"nice":false,"zero":false},"axis":{"orient":"top","offset":-727.5,"values":[-20,-10,0,10,20],"labels":false,"domainWidth":8,"title":null}},
    "y":{"datum":-53.98,"type":"quantitative","scale":{"domain":[-53.98,51.82],"nice":false,"zero":false},"axis":{"orient":"right","offset":-1352,"values":[-40,-20,0,20,40],"labels":false,"domain":false,"title":null}},
    "y2":{"datum":44.34}}}
 ],
 "resolve":{"axis":{"x":"independent","y":"independent"}}},
{"width":1352,"height":743,
 "title":{"text":"(b) Nyquist plot for different distances from PCC.","orient":"bottom","anchor":"start","frame":"group","offset":176,"dx":-226,"baseline":"alphabetic","font":"Liberation Serif","fontSize":82,"fontWeight":"normal","color":"black"},
 "layer":[
  {"data":{"name":"one"},"mark":{"type":"rule","color":"#808080","strokeWidth":2.5,"strokeDash":[3,4]},"encoding":{"y":{"datum":0,"type":"quantitative","scale":{"domain":[-150.5,180.8],"nice":false,"zero":false},"axis":null}}},
  {"data":{"name":"one"},"mark":{"type":"rule","color":"#808080","strokeWidth":2.5,"strokeDash":[3,4]},"encoding":{
    "x":{"datum":0,"type":"quantitative","scale":{"domain":[-100,80],"nice":false,"zero":false},"axis":{"orient":"bottom","values":[-80,-60,-40,-20,0,20,40,60,80],"ticks":false,"domainWidth":8,"labelPadding":89,"labelBaseline":"alphabetic","labelOffset":0,"labelFontSize":53,"title":"Real Axis","titleFontSize":66,"titleX":650,"titleY":189.6,"titleBaseline":"alphabetic","titleAlign":"center"}},
    "y":{"datum":-150.5,"type":"quantitative","scale":{"domain":[-150.5,180.8],"nice":false,"zero":false},"axis":{"orient":"left","values":[-150,-100,-50,0,50,100],"ticks":false,"domain":false,"labelPadding":33,"labelFontSize":53,"title":"Imaginary Axis","titleFontSize":70,"titleX":-150.5,"titleY":417,"titleAngle":-90,"titleBaseline":"alphabetic","titleAlign":"center"}},
    "y2":{"datum":146.9}}},
  {"data":{"name":"b3box"},"mark":{"type":"line","color":"black","strokeWidth":5,"strokeDash":[26,14],"strokeCap":"butt","interpolate":"linear"},"encoding":{"x":{"field":"x","type":"quantitative","scale":{"domain":[-100,80],"nice":false,"zero":false},"axis":null},"y":{"field":"y","type":"quantitative","scale":{"domain":[-150.5,180.8],"nice":false,"zero":false},"axis":null},"order":{"value":null}}},
  {"data":{"name":"one"},"mark":{"type":"rule","color":"black","strokeWidth":9},"encoding":{"x":{"datum":9.8,"type":"quantitative","scale":{"domain":[-100,80],"nice":false,"zero":false},"axis":null},"y":{"datum":44.0,"type":"quantitative","scale":{"domain":[-150.5,180.8],"nice":false,"zero":false},"axis":null},"y2":{"datum":157.5}}},
  {"data":{"name":"b3hd"},"mark":{"type":"line","filled":true,"color":"black","interpolate":"linear-closed"},"encoding":{"x":{"field":"x","type":"quantitative","scale":{"domain":[-100,80],"nice":false,"zero":false},"axis":null},"y":{"field":"y","type":"quantitative","scale":{"domain":[-150.5,180.8],"nice":false,"zero":false},"axis":null},"order":{"value":null}}},
  {"data":{"name":"b3g"},"mark":{"type":"line","strokeWidth":10},"encoding":{"x":{"field":"x","type":"quantitative","scale":{"domain":[-100,80],"nice":false,"zero":false},"axis":null},"y":{"field":"y","type":"quantitative","scale":{"domain":[-150.5,180.8],"nice":false,"zero":false},"axis":null},"color":{"field":"s","type":"nominal","scale":{"domain":["0000 m","1000 m","2000 m","3000 m"],"range":["#00a000","#ff0000","#bf00bf","#000000"]},"legend":{"orient":"none","legendX":1125.3,"legendY":75,"title":null,"strokeColor":"black","padding":4,"symbolType":"M-1.33,0L1.33,0","symbolSize":2116,"symbolStrokeWidth":10,"symbolOffset":9.7,"labelOffset":25.3,"rowPadding":7.5,"labelFont":"Liberation Serif","labelFontWeight":"bold","labelFontSize":42,"labelColor":"black","labelLimit":400}},"order":{"value":null}}},
  {"data":{"name":"b1r"},"mark":{"type":"line","strokeWidth":6},"encoding":{"x":{"field":"x","type":"quantitative","scale":{"domain":[-100,80],"nice":false,"zero":false},"axis":null},"y":{"field":"y","type":"quantitative","scale":{"domain":[-150.5,180.8],"nice":false,"zero":false},"axis":null},"color":{"field":"s","type":"nominal","scale":{"domain":["0000 m","1000 m","2000 m","3000 m"],"range":["#00a000","#ff0000","#bf00bf","#000000"]}},"order":{"value":null}}},
  {"data":{"name":"b2m"},"mark":{"type":"line","strokeWidth":9},"encoding":{"x":{"field":"x","type":"quantitative","scale":{"domain":[-100,80],"nice":false,"zero":false},"axis":null},"y":{"field":"y","type":"quantitative","scale":{"domain":[-150.5,180.8],"nice":false,"zero":false},"axis":null},"color":{"field":"s","type":"nominal","scale":{"domain":["0000 m","1000 m","2000 m","3000 m"],"range":["#00a000","#ff0000","#bf00bf","#000000"]}},"order":{"value":null}}},
  {"data":{"name":"b1k"},"mark":{"type":"line","strokeWidth":12},"encoding":{"x":{"field":"x","type":"quantitative","scale":{"domain":[-100,80],"nice":false,"zero":false},"axis":null},"y":{"field":"y","type":"quantitative","scale":{"domain":[-150.5,180.8],"nice":false,"zero":false},"axis":null},"color":{"field":"s","type":"nominal","scale":{"domain":["0000 m","1000 m","2000 m","3000 m"],"range":["#00a000","#ff0000","#bf00bf","#000000"]}},"order":{"value":null}}},
  {"data":{"name":"b3a"},"mark":{"type":"line","filled":true,"interpolate":"linear-closed"},"encoding":{"x":{"field":"x","type":"quantitative","scale":{"domain":[-100,80],"nice":false,"zero":false},"axis":null},"y":{"field":"y","type":"quantitative","scale":{"domain":[-150.5,180.8],"nice":false,"zero":false},"axis":null},"color":{"field":"s","type":"nominal","scale":{"domain":["0000 m","1000 m","2000 m","3000 m"],"range":["#00a000","#ff0000","#bf00bf","#000000"]}},"detail":{"field":"g"},"order":{"value":null}}},
  {"data":{"name":"b2a"},"transform":[{"filter":"datum.s === '2000 m'"}],"mark":{"type":"line","filled":true,"interpolate":"linear-closed"},"encoding":{"x":{"field":"x","type":"quantitative","scale":{"domain":[-100,80],"nice":false,"zero":false},"axis":null},"y":{"field":"y","type":"quantitative","scale":{"domain":[-150.5,180.8],"nice":false,"zero":false},"axis":null},"color":{"field":"s","type":"nominal","scale":{"domain":["0000 m","1000 m","2000 m","3000 m"],"range":["#00a000","#ff0000","#bf00bf","#000000"]}},"detail":{"field":"g"},"order":{"value":null}}},
  {"data":{"name":"one"},"mark":{"type":"rule","color":"black","strokeWidth":8,"strokeCap":"square"},"encoding":{
    "x":{"datum":-100,"type":"quantitative","scale":{"domain":[-100,80],"nice":false,"zero":false},"axis":{"orient":"bottom","offset":-667,"values":[-80,-60,-40,-20,0,20,40,60,80],"labels":false,"domainWidth":9,"title":null}},
    "y":{"datum":-150.5,"type":"quantitative","scale":{"domain":[-150.5,180.8],"nice":false,"zero":false},"axis":{"orient":"left","offset":-1352,"values":[-150,-100,-50,0,50,100],"labels":false,"domain":false,"title":null}},
    "y2":{"datum":146.9}}},
  {"data":{"name":"one"},"mark":{"type":"rule","color":"black","strokeWidth":8,"strokeCap":"square"},"encoding":{
    "x":{"datum":80,"type":"quantitative","scale":{"domain":[-100,80],"nice":false,"zero":false},"axis":{"orient":"top","offset":-743,"values":[-80,-60,-40,-20,0,20,40,60,80],"labels":false,"domainWidth":8,"title":null}},
    "y":{"datum":-150.5,"type":"quantitative","scale":{"domain":[-150.5,180.8],"nice":false,"zero":false},"axis":{"orient":"right","offset":-1352,"values":[-150,-100,-50,0,50,100],"labels":false,"domain":false,"title":null}},
    "y2":{"datum":146.9}}}
 ],
 "resolve":{"axis":{"x":"independent","y":"independent"}}}
],"spacing":0,"bounds":"flush","resolve":{"scale":{"color":"independent"}}}
],
"spacing":1864,"bounds":"flush","resolve":{"scale":{"color":"independent"}}
}
